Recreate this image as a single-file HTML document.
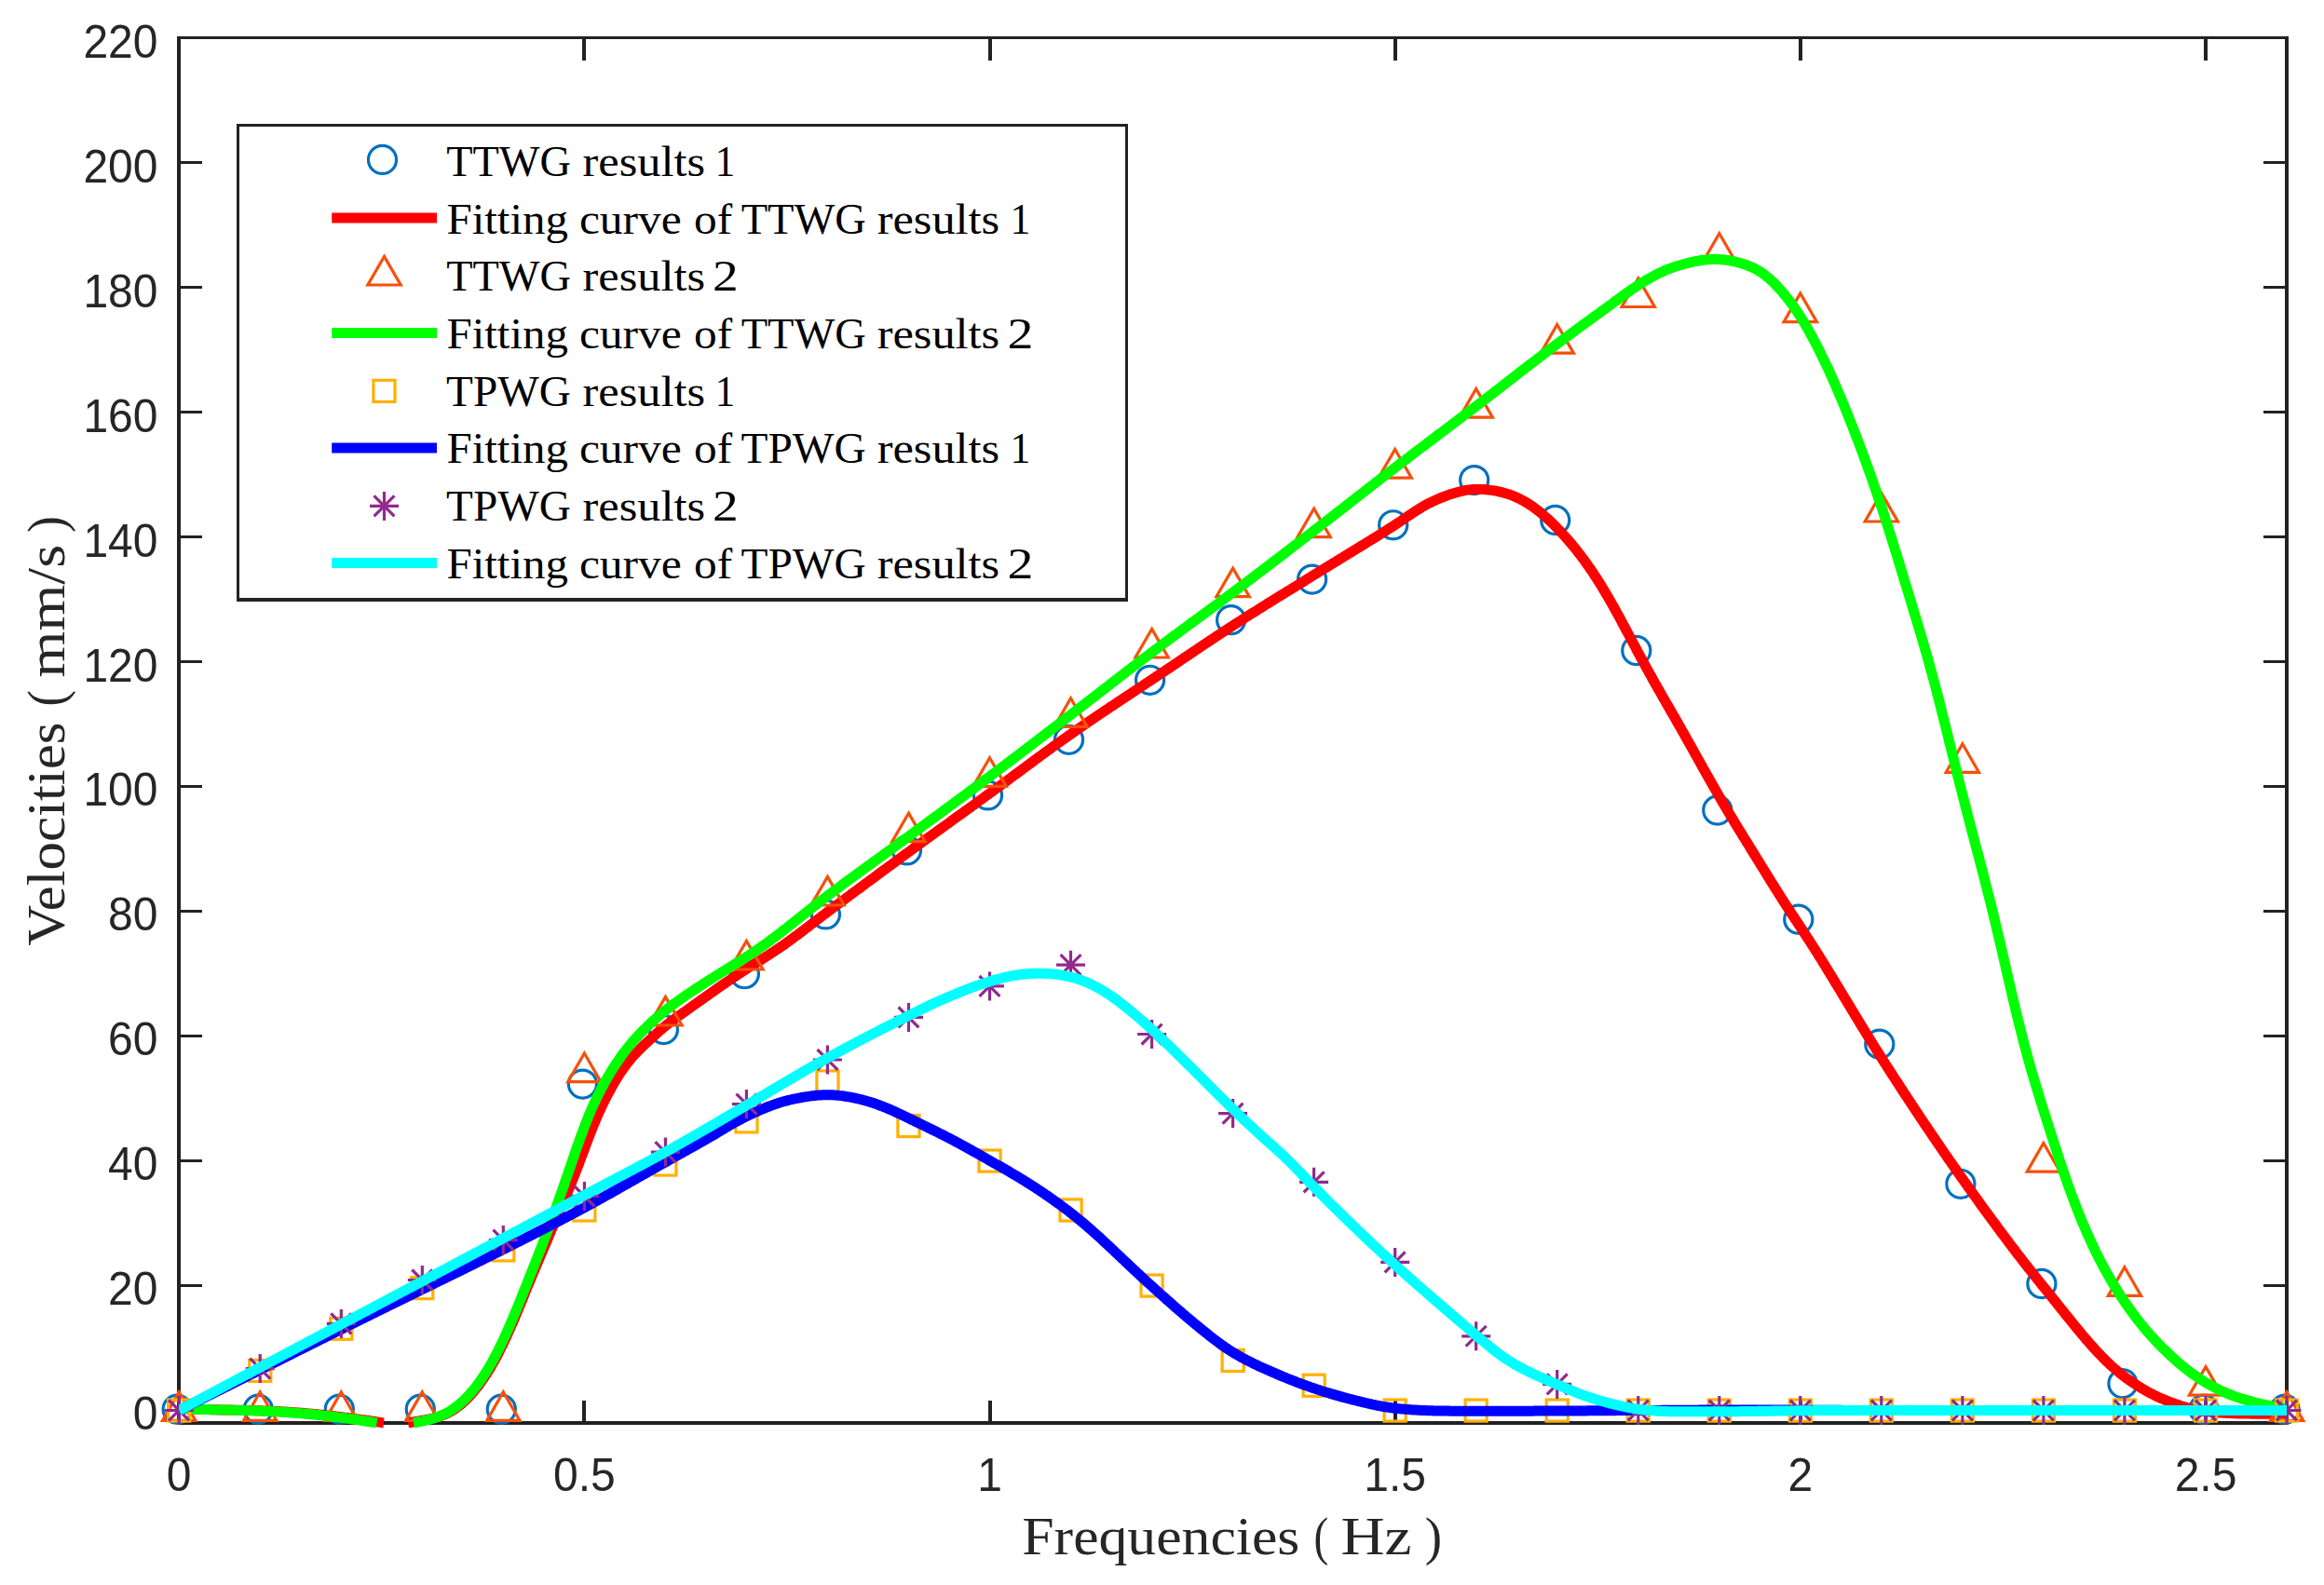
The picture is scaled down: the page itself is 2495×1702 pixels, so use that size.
<!DOCTYPE html>
<html lang="en"><head><meta charset="utf-8"><title>Velocities vs Frequencies</title>
<style>html,body{margin:0;padding:0;background:#fff}svg{display:block}.tk{font-family:"Liberation Sans",Arial,Helvetica,sans-serif;font-size:48px;fill:#262626}.lg{font-family:"Liberation Serif","Times New Roman",serif;font-size:45.5px;fill:#000}.al{font-family:"Liberation Serif","Times New Roman",serif;font-size:57.3px;fill:#262626}</style></head><body>
<svg width="2495" height="1702" viewBox="0 0 2495 1702">
<rect x="0" y="0" width="2495" height="1702" fill="#ffffff"/>
<g fill="#222222" shape-rendering="crispEdges">
<rect x="190" y="39" width="2267" height="3"/>
<rect x="190" y="1526" width="2267" height="4"/>
<rect x="190" y="39" width="4" height="1491"/>
<rect x="2453" y="39" width="4" height="1491"/>
<rect x="625" y="1504" width="4" height="23"/>
<rect x="625" y="41" width="4" height="24"/>
<rect x="1061" y="1504" width="4" height="23"/>
<rect x="1061" y="41" width="4" height="24"/>
<rect x="1496" y="1504" width="4" height="23"/>
<rect x="1496" y="41" width="4" height="24"/>
<rect x="1931" y="1504" width="4" height="23"/>
<rect x="1931" y="41" width="4" height="24"/>
<rect x="2366" y="1504" width="4" height="23"/>
<rect x="2366" y="41" width="4" height="24"/>
<rect x="193" y="1513" width="24" height="3"/>
<rect x="2430" y="1513" width="24" height="3"/>
<rect x="193" y="1379" width="24" height="3"/>
<rect x="2430" y="1379" width="24" height="3"/>
<rect x="193" y="1245" width="24" height="3"/>
<rect x="2430" y="1245" width="24" height="3"/>
<rect x="193" y="1111" width="24" height="3"/>
<rect x="2430" y="1111" width="24" height="3"/>
<rect x="193" y="977" width="24" height="3"/>
<rect x="2430" y="977" width="24" height="3"/>
<rect x="193" y="843" width="24" height="3"/>
<rect x="2430" y="843" width="24" height="3"/>
<rect x="193" y="709" width="24" height="3"/>
<rect x="2430" y="709" width="24" height="3"/>
<rect x="193" y="575" width="24" height="3"/>
<rect x="2430" y="575" width="24" height="3"/>
<rect x="193" y="441" width="24" height="3"/>
<rect x="2430" y="441" width="24" height="3"/>
<rect x="193" y="307" width="24" height="3"/>
<rect x="2430" y="307" width="24" height="3"/>
<rect x="193" y="173" width="24" height="3"/>
<rect x="2430" y="173" width="24" height="3"/>
</g>
<g class="tk" text-anchor="middle">
<text transform="translate(192.2 1601) scale(1 1.04)">0</text>
<text transform="translate(627.4 1601) scale(1 1.04)">0.5</text>
<text transform="translate(1062.5 1601) scale(1 1.04)">1</text>
<text transform="translate(1497.7 1601) scale(1 1.04)">1.5</text>
<text transform="translate(1932.8 1601) scale(1 1.04)">2</text>
<text transform="translate(2368 1601) scale(1 1.04)">2.5</text>
</g>
<g class="tk" text-anchor="end">
<text transform="translate(169.5 1535.4) scale(1 1.04)">0</text>
<text transform="translate(169.5 1401.4) scale(1 1.04)">20</text>
<text transform="translate(169.5 1267.4) scale(1 1.04)">40</text>
<text transform="translate(169.5 1133.4) scale(1 1.04)">60</text>
<text transform="translate(169.5 999.4) scale(1 1.04)">80</text>
<text transform="translate(169.5 865.4) scale(1 1.04)">100</text>
<text transform="translate(169.5 731.5) scale(1 1.04)">120</text>
<text transform="translate(169.5 597.5) scale(1 1.04)">140</text>
<text transform="translate(169.5 463.5) scale(1 1.04)">160</text>
<text transform="translate(169.5 329.5) scale(1 1.04)">180</text>
<text transform="translate(169.5 195.5) scale(1 1.04)">200</text>
<text transform="translate(169.5 61.5) scale(1 1.04)">220</text>
</g>
<text class="al" y="1668.8"><tspan x="1097.3" textLength="298.0" lengthAdjust="spacingAndGlyphs">Frequencies</tspan> <tspan x="1410.6" textLength="15.6" lengthAdjust="spacingAndGlyphs">(</tspan> <tspan x="1439.4" textLength="76.0" lengthAdjust="spacingAndGlyphs">Hz</tspan> <tspan x="1529.8" textLength="18.4" lengthAdjust="spacingAndGlyphs">)</tspan></text>
<g transform="translate(69.2 1015.3) rotate(-90)"><text class="al" y="0"><tspan x="-0.4" textLength="240.2" lengthAdjust="spacingAndGlyphs">Velocities</tspan> <tspan x="256.9" textLength="17.4" lengthAdjust="spacingAndGlyphs">(</tspan> <tspan x="287.9" textLength="142.5" lengthAdjust="spacingAndGlyphs">mm/s</tspan> <tspan x="443.3" textLength="17.8" lengthAdjust="spacingAndGlyphs">)</tspan></text></g>
<defs><clipPath id="ax"><rect x="192.2" y="40.6" width="2262.8" height="1495.3"/></clipPath></defs>
<g fill="none" stroke="#0070C0" stroke-width="3.2" stroke-linejoin="miter" stroke-miterlimit="10">
<circle cx="190.2" cy="1513.2" r="15.05"/>
<circle cx="277.2" cy="1513.2" r="15.05"/>
<circle cx="364.3" cy="1513.2" r="15.05"/>
<circle cx="451.3" cy="1513.2" r="15.05"/>
<circle cx="538.3" cy="1513.2" r="15.05"/>
<circle cx="625.4" cy="1164.1" r="15.05"/>
<circle cx="712.4" cy="1105.5" r="15.05"/>
<circle cx="799.4" cy="1045.7" r="15.05"/>
<circle cx="886.4" cy="981.9" r="15.05"/>
<circle cx="973.5" cy="912.9" r="15.05"/>
<circle cx="1060.5" cy="853.9" r="15.05"/>
<circle cx="1147.5" cy="794.3" r="15.05"/>
<circle cx="1234.6" cy="730.3" r="15.05"/>
<circle cx="1321.6" cy="665.7" r="15.05"/>
<circle cx="1408.6" cy="622.1" r="15.05"/>
<circle cx="1495.7" cy="563.8" r="15.05"/>
<circle cx="1582.7" cy="515.6" r="15.05"/>
<circle cx="1669.7" cy="558.5" r="15.05"/>
<circle cx="1756.8" cy="698.5" r="15.05"/>
<circle cx="1843.8" cy="870" r="15.05"/>
<circle cx="1930.8" cy="987.2" r="15.05"/>
<circle cx="2017.8" cy="1121.2" r="15.05"/>
<circle cx="2104.9" cy="1271.3" r="15.05"/>
<circle cx="2191.9" cy="1378.5" r="15.05"/>
<circle cx="2278.9" cy="1485.7" r="15.05"/>
<circle cx="2366" cy="1513.2" r="15.05"/>
<circle cx="2453" cy="1513.2" r="15.05"/>
</g>
<path clip-path="url(#ax)" d="M192.2 1512.5 L193.9 1512.6 L195.7 1512.6 L197.4 1512.7 L199.2 1512.8 L200.9 1512.8 L202.7 1512.9 L204.4 1513.0 L206.2 1513.0 L207.9 1513.1 L209.6 1513.2 L211.4 1513.2 L213.1 1513.3 L214.9 1513.3 L216.6 1513.4 L218.4 1513.5 L220.1 1513.5 L221.8 1513.6 L223.6 1513.6 L225.3 1513.6 L227.1 1513.7 L228.8 1513.7 L230.6 1513.8 L232.3 1513.8 L234.1 1513.8 L235.8 1513.9 L237.5 1513.9 L239.3 1513.9 L241.0 1514.0 L242.8 1514.0 L244.5 1514.0 L246.3 1514.1 L248.0 1514.1 L249.8 1514.1 L251.5 1514.2 L253.2 1514.2 L255.0 1514.2 L256.7 1514.3 L258.5 1514.3 L260.2 1514.3 L262.0 1514.4 L263.7 1514.4 L265.5 1514.4 L267.2 1514.5 L268.9 1514.5 L270.7 1514.6 L272.4 1514.6 L274.2 1514.7 L275.9 1514.7 L277.7 1514.8 L279.4 1514.8 L281.1 1514.9 L282.9 1514.9 L284.6 1515.0 L286.4 1515.1 L288.1 1515.2 L289.9 1515.2 L291.6 1515.3 L293.4 1515.4 L295.1 1515.5 L296.8 1515.6 L298.6 1515.6 L300.3 1515.7 L302.1 1515.8 L303.8 1515.9 L305.6 1516.0 L307.3 1516.1 L309.1 1516.2 L310.8 1516.4 L312.5 1516.5 L314.3 1516.6 L316.0 1516.7 L317.8 1516.8 L319.5 1516.9 L321.3 1517.1 L323.0 1517.2 L324.7 1517.3 L326.5 1517.5 L328.2 1517.6 L330.0 1517.8 L331.7 1517.9 L333.5 1518.1 L335.2 1518.2 L337.0 1518.4 L338.7 1518.6 L340.4 1518.7 L342.2 1518.9 L343.9 1519.1 L345.7 1519.3 L347.4 1519.5 L349.2 1519.7 L350.9 1519.9 L352.7 1520.0 L354.4 1520.2 L356.1 1520.4 L357.9 1520.6 L359.6 1520.8 L361.4 1521.1 L363.1 1521.3 L364.9 1521.5 L366.6 1521.7 L368.4 1521.9 L370.1 1522.1 L371.8 1522.3 L373.6 1522.5 L375.3 1522.8 L377.1 1523.0 L378.8 1523.2 L380.6 1523.4 L382.3 1523.7 L384.0 1523.9 L385.8 1524.1 L387.5 1524.4 L389.3 1524.6 L391.0 1524.8 L392.8 1525.1 L394.5 1525.3 L396.3 1525.6 L398.0 1525.8 L399.7 1526.1 L401.5 1526.3 L403.2 1526.6 L405.0 1526.9 L406.7 1527.1 L408.5 1527.4 L410.2 1527.7 L412.0 1527.9 M438.1 1527.9 L439.9 1527.6 L441.6 1527.3 L443.4 1527.0 L445.1 1526.7 L446.8 1526.4 L448.6 1526.1 L450.3 1525.8 L452.1 1525.5 L453.8 1525.2 L455.6 1524.9 L457.3 1524.6 L459.0 1524.2 L460.8 1523.9 L462.5 1523.5 L464.3 1523.1 L466.0 1522.7 L467.7 1522.3 L469.5 1521.8 L471.2 1521.2 L473.0 1520.6 L474.7 1520.0 L476.4 1519.3 L478.2 1518.6 L479.9 1517.8 L481.7 1516.9 L483.4 1516.0 L485.1 1515.0 L486.9 1513.9 L488.6 1512.7 L490.4 1511.5 L492.1 1510.2 L493.8 1508.8 L495.6 1507.4 L497.3 1505.8 L499.1 1504.2 L500.8 1502.5 L502.5 1500.8 L504.3 1499.0 L506.0 1497.1 L507.8 1495.1 L509.5 1493.0 L511.2 1490.9 L513.0 1488.7 L514.7 1486.4 L516.5 1484.0 L518.2 1481.5 L519.9 1479.0 L521.7 1476.4 L523.4 1473.6 L525.2 1470.8 L526.9 1467.9 L528.6 1464.9 L530.4 1461.8 L532.1 1458.7 L533.9 1455.4 L535.6 1452.1 L537.3 1448.6 L539.1 1445.1 L540.8 1441.5 L542.6 1437.8 L544.3 1434.0 L546.0 1430.1 L547.8 1426.2 L549.5 1422.2 L551.3 1418.2 L553.0 1414.1 L554.7 1410.0 L556.5 1405.8 L558.2 1401.5 L560.0 1397.3 L561.7 1393.1 L563.4 1388.8 L565.2 1384.5 L566.9 1380.3 L568.7 1376.1 L570.4 1371.8 L572.1 1367.7 L573.9 1363.5 L575.6 1359.4 L577.4 1355.3 L579.1 1351.2 L580.8 1347.1 L582.6 1343.0 L584.3 1338.9 L586.1 1334.9 L587.8 1330.8 L589.5 1326.7 L591.3 1322.6 L593.0 1318.5 L594.8 1314.5 L596.5 1310.4 L598.2 1306.3 L600.0 1302.2 L601.7 1298.1 L603.5 1294.1 L605.2 1290.0 L606.9 1285.9 L608.7 1281.8 L610.4 1277.6 L612.2 1273.4 L613.9 1269.1 L615.6 1264.7 L617.4 1260.3 L619.1 1255.8 L620.9 1251.2 L622.6 1246.6 L624.3 1241.9 L626.1 1237.3 L627.8 1232.6 L629.6 1227.9 L631.3 1223.3 L633.0 1218.8 L634.8 1214.3 L636.5 1209.9 L638.3 1205.7 L640.0 1201.5 L641.7 1197.5 L643.5 1193.6 L645.2 1189.9 L647.0 1186.2 L648.7 1182.6 L650.4 1179.2 L652.2 1175.8 L653.9 1172.5 L655.7 1169.3 L657.4 1166.2 L659.1 1163.2 L660.9 1160.2 L662.6 1157.4 L664.4 1154.6 L666.1 1151.9 L667.9 1149.4 L669.6 1146.9 L671.3 1144.5 L673.1 1142.2 L674.8 1140.0 L676.6 1137.8 L678.3 1135.8 L680.0 1133.8 L681.8 1131.9 L683.5 1130.1 L685.3 1128.3 L687.0 1126.5 L688.7 1124.8 L690.5 1123.2 L692.2 1121.5 L694.0 1119.9 L695.7 1118.3 L697.4 1116.7 L699.2 1115.1 L700.9 1113.5 L702.7 1111.9 L704.4 1110.3 L706.1 1108.7 L707.9 1107.2 L709.6 1105.7 L711.4 1104.2 L713.1 1102.7 L714.8 1101.3 L716.6 1099.9 L718.3 1098.6 L720.1 1097.2 L721.8 1095.9 L723.5 1094.6 L725.3 1093.3 L727.0 1092.1 L728.8 1090.8 L730.5 1089.6 L732.2 1088.3 L734.0 1087.1 L735.7 1085.9 L737.5 1084.6 L739.2 1083.4 L740.9 1082.2 L742.7 1080.9 L744.4 1079.7 L746.2 1078.4 L747.9 1077.2 L749.6 1076.0 L751.4 1074.7 L753.1 1073.5 L754.9 1072.3 L756.6 1071.0 L758.3 1069.8 L760.1 1068.6 L761.8 1067.3 L763.6 1066.1 L765.3 1064.9 L767.0 1063.7 L768.8 1062.5 L770.5 1061.2 L772.3 1060.0 L774.0 1058.8 L775.7 1057.6 L777.5 1056.4 L779.2 1055.2 L781.0 1054.0 L782.7 1052.9 L784.4 1051.7 L786.2 1050.5 L787.9 1049.3 L789.7 1048.2 L791.4 1047.0 L793.1 1045.8 L794.9 1044.7 L796.6 1043.5 L798.4 1042.4 L800.1 1041.3 L801.8 1040.2 L803.6 1039.0 L805.3 1037.9 L807.1 1036.8 L808.8 1035.7 L810.5 1034.6 L812.3 1033.6 L814.0 1032.5 L815.8 1031.4 L817.5 1030.3 L819.2 1029.2 L821.0 1028.1 L822.7 1027.0 L824.5 1025.9 L826.2 1024.8 L827.9 1023.7 L829.7 1022.5 L831.4 1021.4 L833.2 1020.2 L834.9 1019.1 L836.6 1017.9 L838.4 1016.7 L840.1 1015.5 L841.9 1014.3 L843.6 1013.0 L845.3 1011.8 L847.1 1010.5 L848.8 1009.3 L850.6 1008.0 L852.3 1006.7 L854.0 1005.4 L855.8 1004.1 L857.5 1002.8 L859.3 1001.5 L861.0 1000.2 L862.7 998.9 L864.5 997.5 L866.2 996.2 L868.0 994.9 L869.7 993.5 L871.4 992.2 L873.2 990.9 L874.9 989.5 L876.7 988.2 L878.4 986.9 L880.2 985.6 L881.9 984.2 L883.6 982.9 L885.4 981.6 L887.1 980.3 L888.9 979.0 L890.6 977.7 L892.3 976.3 L894.1 975.0 L895.8 973.7 L897.6 972.4 L899.3 971.1 L901.0 969.8 L902.8 968.6 L904.5 967.3 L906.3 966.0 L908.0 964.7 L909.7 963.4 L911.5 962.1 L913.2 960.8 L915.0 959.5 L916.7 958.2 L918.4 956.9 L920.2 955.6 L921.9 954.3 L923.7 953.1 L925.4 951.8 L927.1 950.5 L928.9 949.2 L930.6 947.9 L932.4 946.6 L934.1 945.3 L935.8 944.0 L937.6 942.8 L939.3 941.5 L941.1 940.2 L942.8 938.9 L944.5 937.6 L946.3 936.3 L948.0 935.1 L949.8 933.8 L951.5 932.5 L953.2 931.2 L955.0 929.9 L956.7 928.7 L958.5 927.4 L960.2 926.1 L961.9 924.8 L963.7 923.5 L965.4 922.3 L967.2 921.0 L968.9 919.7 L970.6 918.4 L972.4 917.2 L974.1 915.9 L975.9 914.6 L977.6 913.4 L979.3 912.1 L981.1 910.8 L982.8 909.6 L984.6 908.3 L986.3 907.0 L988.0 905.8 L989.8 904.5 L991.5 903.2 L993.3 902.0 L995.0 900.7 L996.7 899.4 L998.5 898.2 L1000.2 896.9 L1002.0 895.7 L1003.7 894.4 L1005.4 893.1 L1007.2 891.9 L1008.9 890.6 L1010.7 889.4 L1012.4 888.1 L1014.1 886.9 L1015.9 885.6 L1017.6 884.4 L1019.4 883.1 L1021.1 881.8 L1022.8 880.6 L1024.6 879.3 L1026.3 878.1 L1028.1 876.8 L1029.8 875.6 L1031.5 874.3 L1033.3 873.1 L1035.0 871.8 L1036.8 870.5 L1038.5 869.3 L1040.2 868.0 L1042.0 866.8 L1043.7 865.5 L1045.5 864.3 L1047.2 863.0 L1048.9 861.7 L1050.7 860.5 L1052.4 859.2 L1054.2 858.0 L1055.9 856.7 L1057.6 855.4 L1059.4 854.2 L1061.1 852.9 L1062.9 851.6 L1064.6 850.4 L1066.3 849.1 L1068.1 847.8 L1069.8 846.5 L1071.6 845.3 L1073.3 844.0 L1075.0 842.7 L1076.8 841.4 L1078.5 840.1 L1080.3 838.9 L1082.0 837.6 L1083.8 836.3 L1085.5 835.0 L1087.2 833.7 L1089.0 832.4 L1090.7 831.1 L1092.5 829.9 L1094.2 828.6 L1095.9 827.3 L1097.7 826.0 L1099.4 824.7 L1101.2 823.4 L1102.9 822.1 L1104.6 820.8 L1106.4 819.6 L1108.1 818.3 L1109.9 817.0 L1111.6 815.7 L1113.3 814.4 L1115.1 813.2 L1116.8 811.9 L1118.6 810.6 L1120.3 809.3 L1122.0 808.1 L1123.8 806.8 L1125.5 805.5 L1127.3 804.3 L1129.0 803.0 L1130.7 801.7 L1132.5 800.5 L1134.2 799.2 L1136.0 798.0 L1137.7 796.7 L1139.4 795.5 L1141.2 794.2 L1142.9 793.0 L1144.7 791.8 L1146.4 790.5 L1148.1 789.3 L1149.9 788.1 L1151.6 786.9 L1153.4 785.7 L1155.1 784.5 L1156.8 783.2 L1158.6 782.0 L1160.3 780.8 L1162.1 779.6 L1163.8 778.4 L1165.5 777.2 L1167.3 776.0 L1169.0 774.9 L1170.8 773.7 L1172.5 772.5 L1174.2 771.3 L1176.0 770.1 L1177.7 768.9 L1179.5 767.8 L1181.2 766.6 L1182.9 765.4 L1184.7 764.3 L1186.4 763.1 L1188.2 761.9 L1189.9 760.8 L1191.6 759.6 L1193.4 758.4 L1195.1 757.3 L1196.9 756.1 L1198.6 755.0 L1200.3 753.8 L1202.1 752.6 L1203.8 751.5 L1205.6 750.3 L1207.3 749.2 L1209.0 748.0 L1210.8 746.9 L1212.5 745.7 L1214.3 744.6 L1216.0 743.4 L1217.7 742.3 L1219.5 741.1 L1221.2 739.9 L1223.0 738.8 L1224.7 737.6 L1226.4 736.5 L1228.2 735.3 L1229.9 734.2 L1231.7 733.0 L1233.4 731.9 L1235.1 730.7 L1236.9 729.6 L1238.6 728.4 L1240.4 727.3 L1242.1 726.1 L1243.8 724.9 L1245.6 723.8 L1247.3 722.6 L1249.1 721.4 L1250.8 720.3 L1252.5 719.1 L1254.3 718.0 L1256.0 716.8 L1257.8 715.6 L1259.5 714.5 L1261.2 713.3 L1263.0 712.1 L1264.7 710.9 L1266.5 709.8 L1268.2 708.6 L1269.9 707.4 L1271.7 706.3 L1273.4 705.1 L1275.2 703.9 L1276.9 702.7 L1278.6 701.6 L1280.4 700.4 L1282.1 699.2 L1283.9 698.0 L1285.6 696.9 L1287.3 695.7 L1289.1 694.5 L1290.8 693.4 L1292.6 692.2 L1294.3 691.0 L1296.1 689.9 L1297.8 688.7 L1299.5 687.6 L1301.3 686.4 L1303.0 685.2 L1304.8 684.1 L1306.5 682.9 L1308.2 681.8 L1310.0 680.6 L1311.7 679.5 L1313.5 678.4 L1315.2 677.2 L1316.9 676.1 L1318.7 674.9 L1320.4 673.8 L1322.2 672.7 L1323.9 671.6 L1325.6 670.4 L1327.4 669.3 L1329.1 668.2 L1330.9 667.1 L1332.6 666.0 L1334.3 664.9 L1336.1 663.8 L1337.8 662.6 L1339.6 661.5 L1341.3 660.4 L1343.0 659.3 L1344.8 658.2 L1346.5 657.2 L1348.3 656.1 L1350.0 655.0 L1351.7 653.9 L1353.5 652.8 L1355.2 651.7 L1357.0 650.6 L1358.7 649.5 L1360.4 648.4 L1362.2 647.4 L1363.9 646.3 L1365.7 645.2 L1367.4 644.1 L1369.1 643.0 L1370.9 642.0 L1372.6 640.9 L1374.4 639.8 L1376.1 638.7 L1377.8 637.7 L1379.6 636.6 L1381.3 635.5 L1383.1 634.4 L1384.8 633.4 L1386.5 632.3 L1388.3 631.2 L1390.0 630.2 L1391.8 629.1 L1393.5 628.0 L1395.2 626.9 L1397.0 625.9 L1398.7 624.8 L1400.5 623.7 L1402.2 622.6 L1403.9 621.6 L1405.7 620.5 L1407.4 619.4 L1409.2 618.3 L1410.9 617.3 L1412.6 616.2 L1414.4 615.1 L1416.1 614.0 L1417.9 613.0 L1419.6 611.9 L1421.3 610.8 L1423.1 609.8 L1424.8 608.7 L1426.6 607.6 L1428.3 606.6 L1430.0 605.5 L1431.8 604.4 L1433.5 603.4 L1435.3 602.3 L1437.0 601.2 L1438.7 600.2 L1440.5 599.1 L1442.2 598.0 L1444.0 597.0 L1445.7 595.9 L1447.4 594.8 L1449.2 593.8 L1450.9 592.7 L1452.7 591.6 L1454.4 590.6 L1456.1 589.5 L1457.9 588.4 L1459.6 587.4 L1461.4 586.3 L1463.1 585.2 L1464.8 584.2 L1466.6 583.1 L1468.3 582.0 L1470.1 581.0 L1471.8 579.9 L1473.5 578.8 L1475.3 577.7 L1477.0 576.7 L1478.8 575.6 L1480.5 574.5 L1482.2 573.4 L1484.0 572.3 L1485.7 571.2 L1487.5 570.1 L1489.2 569.0 L1490.9 567.9 L1492.7 566.8 L1494.4 565.7 L1496.2 564.6 L1497.9 563.4 L1499.6 562.3 L1501.4 561.1 L1503.1 560.0 L1504.9 558.8 L1506.6 557.6 L1508.4 556.5 L1510.1 555.3 L1511.8 554.1 L1513.6 552.9 L1515.3 551.7 L1517.1 550.6 L1518.8 549.4 L1520.5 548.3 L1522.3 547.2 L1524.0 546.1 L1525.8 545.1 L1527.5 544.0 L1529.2 543.0 L1531.0 542.1 L1532.7 541.1 L1534.5 540.2 L1536.2 539.4 L1537.9 538.5 L1539.7 537.7 L1541.4 536.9 L1543.2 536.2 L1544.9 535.4 L1546.6 534.7 L1548.4 534.0 L1550.1 533.3 L1551.9 532.7 L1553.6 532.0 L1555.3 531.4 L1557.1 530.8 L1558.8 530.2 L1560.6 529.7 L1562.3 529.2 L1564.0 528.7 L1565.8 528.2 L1567.5 527.8 L1569.3 527.3 L1571.0 527.0 L1572.7 526.6 L1574.5 526.3 L1576.2 526.1 L1578.0 525.9 L1579.7 525.7 L1581.4 525.5 L1583.2 525.4 L1584.9 525.4 L1586.7 525.4 L1588.4 525.4 L1590.1 525.4 L1591.9 525.5 L1593.6 525.6 L1595.4 525.8 L1597.1 525.9 L1598.8 526.1 L1600.6 526.4 L1602.3 526.6 L1604.1 526.9 L1605.8 527.2 L1607.5 527.5 L1609.3 527.9 L1611.0 528.3 L1612.8 528.7 L1614.5 529.2 L1616.2 529.7 L1618.0 530.2 L1619.7 530.7 L1621.5 531.3 L1623.2 532.0 L1624.9 532.7 L1626.7 533.4 L1628.4 534.2 L1630.2 535.0 L1631.9 535.9 L1633.6 536.8 L1635.4 537.7 L1637.1 538.7 L1638.9 539.8 L1640.6 540.8 L1642.3 542.0 L1644.1 543.1 L1645.8 544.3 L1647.6 545.6 L1649.3 546.9 L1651.0 548.2 L1652.8 549.6 L1654.5 551.0 L1656.3 552.5 L1658.0 554.0 L1659.7 555.5 L1661.5 557.1 L1663.2 558.7 L1665.0 560.3 L1666.7 562.0 L1668.4 563.7 L1670.2 565.5 L1671.9 567.3 L1673.7 569.1 L1675.4 570.9 L1677.1 572.8 L1678.9 574.7 L1680.6 576.6 L1682.4 578.6 L1684.1 580.6 L1685.8 582.6 L1687.6 584.7 L1689.3 586.8 L1691.1 589.0 L1692.8 591.2 L1694.5 593.4 L1696.3 595.6 L1698.0 597.9 L1699.8 600.3 L1701.5 602.6 L1703.2 605.1 L1705.0 607.5 L1706.7 610.0 L1708.5 612.5 L1710.2 615.1 L1711.9 617.8 L1713.7 620.4 L1715.4 623.2 L1717.2 625.9 L1718.9 628.7 L1720.7 631.6 L1722.4 634.5 L1724.1 637.4 L1725.9 640.3 L1727.6 643.3 L1729.4 646.4 L1731.1 649.4 L1732.8 652.5 L1734.6 655.7 L1736.3 658.8 L1738.1 662.0 L1739.8 665.2 L1741.5 668.5 L1743.3 671.7 L1745.0 675.0 L1746.8 678.3 L1748.5 681.5 L1750.2 684.8 L1752.0 688.1 L1753.7 691.4 L1755.5 694.6 L1757.2 697.9 L1758.9 701.2 L1760.7 704.4 L1762.4 707.6 L1764.2 710.8 L1765.9 714.0 L1767.6 717.2 L1769.4 720.4 L1771.1 723.5 L1772.9 726.6 L1774.6 729.8 L1776.3 732.9 L1778.1 736.0 L1779.8 739.0 L1781.6 742.1 L1783.3 745.2 L1785.0 748.2 L1786.8 751.3 L1788.5 754.3 L1790.3 757.3 L1792.0 760.3 L1793.7 763.4 L1795.5 766.4 L1797.2 769.4 L1799.0 772.4 L1800.7 775.5 L1802.4 778.5 L1804.2 781.6 L1805.9 784.6 L1807.7 787.7 L1809.4 790.8 L1811.1 793.9 L1812.9 797.0 L1814.6 800.1 L1816.4 803.2 L1818.1 806.3 L1819.8 809.4 L1821.6 812.6 L1823.3 815.7 L1825.1 818.8 L1826.8 821.9 L1828.5 825.0 L1830.3 828.1 L1832.0 831.2 L1833.8 834.3 L1835.5 837.4 L1837.2 840.4 L1839.0 843.5 L1840.7 846.5 L1842.5 849.6 L1844.2 852.6 L1845.9 855.6 L1847.7 858.6 L1849.4 861.6 L1851.2 864.5 L1852.9 867.5 L1854.6 870.4 L1856.4 873.3 L1858.1 876.2 L1859.9 879.1 L1861.6 882.0 L1863.3 884.9 L1865.1 887.7 L1866.8 890.6 L1868.6 893.4 L1870.3 896.2 L1872.0 899.1 L1873.8 901.9 L1875.5 904.7 L1877.3 907.5 L1879.0 910.3 L1880.7 913.1 L1882.5 916.0 L1884.2 918.8 L1886.0 921.6 L1887.7 924.4 L1889.4 927.2 L1891.2 930.1 L1892.9 932.9 L1894.7 935.7 L1896.4 938.5 L1898.1 941.3 L1899.9 944.1 L1901.6 947.0 L1903.4 949.8 L1905.1 952.5 L1906.8 955.3 L1908.6 958.1 L1910.3 960.8 L1912.1 963.6 L1913.8 966.3 L1915.5 969.0 L1917.3 971.7 L1919.0 974.4 L1920.8 977.1 L1922.5 979.7 L1924.2 982.4 L1926.0 985.0 L1927.7 987.7 L1929.5 990.3 L1931.2 993.0 L1933.0 995.6 L1934.7 998.3 L1936.4 1000.9 L1938.2 1003.6 L1939.9 1006.2 L1941.7 1008.9 L1943.4 1011.6 L1945.1 1014.3 L1946.9 1017.1 L1948.6 1019.8 L1950.4 1022.6 L1952.1 1025.3 L1953.8 1028.1 L1955.6 1030.9 L1957.3 1033.7 L1959.1 1036.5 L1960.8 1039.3 L1962.5 1042.2 L1964.3 1045.0 L1966.0 1047.9 L1967.8 1050.7 L1969.5 1053.6 L1971.2 1056.5 L1973.0 1059.3 L1974.7 1062.2 L1976.5 1065.1 L1978.2 1068.0 L1979.9 1070.9 L1981.7 1073.7 L1983.4 1076.6 L1985.2 1079.5 L1986.9 1082.4 L1988.6 1085.3 L1990.4 1088.1 L1992.1 1091.0 L1993.9 1093.9 L1995.6 1096.8 L1997.3 1099.6 L1999.1 1102.5 L2000.8 1105.3 L2002.6 1108.1 L2004.3 1111.0 L2006.0 1113.8 L2007.8 1116.6 L2009.5 1119.4 L2011.3 1122.2 L2013.0 1125.0 L2014.7 1127.7 L2016.5 1130.5 L2018.2 1133.2 L2020.0 1136.0 L2021.7 1138.7 L2023.4 1141.5 L2025.2 1144.2 L2026.9 1146.9 L2028.7 1149.6 L2030.4 1152.3 L2032.1 1155.0 L2033.9 1157.7 L2035.6 1160.4 L2037.4 1163.0 L2039.1 1165.7 L2040.8 1168.4 L2042.6 1171.1 L2044.3 1173.7 L2046.1 1176.4 L2047.8 1179.0 L2049.5 1181.7 L2051.3 1184.3 L2053.0 1186.9 L2054.8 1189.6 L2056.5 1192.2 L2058.2 1194.8 L2060.0 1197.5 L2061.7 1200.1 L2063.5 1202.7 L2065.2 1205.3 L2066.9 1207.9 L2068.7 1210.5 L2070.4 1213.0 L2072.2 1215.6 L2073.9 1218.2 L2075.6 1220.8 L2077.4 1223.3 L2079.1 1225.9 L2080.9 1228.4 L2082.6 1231.0 L2084.3 1233.5 L2086.1 1236.1 L2087.8 1238.6 L2089.6 1241.1 L2091.3 1243.6 L2093.0 1246.1 L2094.8 1248.6 L2096.5 1251.1 L2098.3 1253.6 L2100.0 1256.1 L2101.7 1258.6 L2103.5 1261.1 L2105.2 1263.5 L2107.0 1266.0 L2108.7 1268.4 L2110.4 1270.9 L2112.2 1273.3 L2113.9 1275.8 L2115.7 1278.2 L2117.4 1280.7 L2119.1 1283.1 L2120.9 1285.5 L2122.6 1287.9 L2124.4 1290.3 L2126.1 1292.8 L2127.8 1295.2 L2129.6 1297.6 L2131.3 1300.0 L2133.1 1302.4 L2134.8 1304.7 L2136.5 1307.1 L2138.3 1309.5 L2140.0 1311.9 L2141.8 1314.2 L2143.5 1316.6 L2145.3 1319.0 L2147.0 1321.3 L2148.7 1323.7 L2150.5 1326.0 L2152.2 1328.3 L2154.0 1330.6 L2155.7 1333.0 L2157.4 1335.3 L2159.2 1337.6 L2160.9 1339.9 L2162.7 1342.1 L2164.4 1344.4 L2166.1 1346.7 L2167.9 1348.9 L2169.6 1351.2 L2171.4 1353.4 L2173.1 1355.7 L2174.8 1357.9 L2176.6 1360.1 L2178.3 1362.3 L2180.1 1364.5 L2181.8 1366.7 L2183.5 1368.9 L2185.3 1371.1 L2187.0 1373.3 L2188.8 1375.4 L2190.5 1377.6 L2192.2 1379.8 L2194.0 1381.9 L2195.7 1384.1 L2197.5 1386.3 L2199.2 1388.4 L2200.9 1390.6 L2202.7 1392.7 L2204.4 1394.9 L2206.2 1397.1 L2207.9 1399.2 L2209.6 1401.4 L2211.4 1403.6 L2213.1 1405.8 L2214.9 1407.9 L2216.6 1410.1 L2218.3 1412.3 L2220.1 1414.4 L2221.8 1416.6 L2223.6 1418.8 L2225.3 1420.9 L2227.0 1423.0 L2228.8 1425.2 L2230.5 1427.3 L2232.3 1429.4 L2234.0 1431.5 L2235.7 1433.6 L2237.5 1435.6 L2239.2 1437.7 L2241.0 1439.7 L2242.7 1441.7 L2244.4 1443.7 L2246.2 1445.6 L2247.9 1447.6 L2249.7 1449.5 L2251.4 1451.4 L2253.1 1453.2 L2254.9 1455.0 L2256.6 1456.8 L2258.4 1458.6 L2260.1 1460.3 L2261.8 1462.1 L2263.6 1463.7 L2265.3 1465.4 L2267.1 1467.0 L2268.8 1468.5 L2270.5 1470.0 L2272.3 1471.5 L2274.0 1473.0 L2275.8 1474.4 L2277.5 1475.8 L2279.2 1477.1 L2281.0 1478.5 L2282.7 1479.8 L2284.5 1481.0 L2286.2 1482.2 L2287.9 1483.5 L2289.7 1484.6 L2291.4 1485.8 L2293.2 1486.9 L2294.9 1488.0 L2296.6 1489.1 L2298.4 1490.2 L2300.1 1491.2 L2301.9 1492.2 L2303.6 1493.2 L2305.3 1494.2 L2307.1 1495.2 L2308.8 1496.1 L2310.6 1497.0 L2312.3 1497.9 L2314.0 1498.8 L2315.8 1499.6 L2317.5 1500.4 L2319.3 1501.2 L2321.0 1502.0 L2322.7 1502.7 L2324.5 1503.4 L2326.2 1504.1 L2328.0 1504.8 L2329.7 1505.5 L2331.4 1506.1 L2333.2 1506.8 L2334.9 1507.4 L2336.7 1508.0 L2338.4 1508.6 L2340.1 1509.1 L2341.9 1509.7 L2343.6 1510.2 L2345.4 1510.7 L2347.1 1511.2 L2348.8 1511.7 L2350.6 1512.2 L2352.3 1512.6 L2354.1 1513.0 L2355.8 1513.4 L2357.6 1513.8 L2359.3 1514.1 L2361.0 1514.4 L2362.8 1514.7 L2364.5 1515.0 L2366.3 1515.3 L2368.0 1515.5 L2369.7 1515.7 L2371.5 1515.9 L2373.2 1516.1 L2375.0 1516.3 L2376.7 1516.5 L2378.4 1516.6 L2380.2 1516.7 L2381.9 1516.9 L2383.7 1517.0 L2385.4 1517.1 L2387.1 1517.2 L2388.9 1517.3 L2390.6 1517.4 L2392.4 1517.5 L2394.1 1517.6 L2395.8 1517.7 L2397.6 1517.8 L2399.3 1517.8 L2401.1 1517.9 L2402.8 1517.9 L2404.5 1518.0 L2406.3 1518.0 L2408.0 1518.1 L2409.8 1518.1 L2411.5 1518.1 L2413.2 1518.1 L2415.0 1518.1 L2416.7 1518.2 L2418.5 1518.2 L2420.2 1518.2 L2421.9 1518.2 L2423.7 1518.2 L2425.4 1518.2 L2427.2 1518.2 L2428.9 1518.2 L2430.6 1518.2 L2432.4 1518.2 L2434.1 1518.2 L2435.9 1518.2 L2437.6 1518.2 L2439.3 1518.2 L2441.1 1518.2 L2442.8 1518.2 L2444.6 1518.2 L2446.3 1518.2 L2448.0 1518.2 L2449.8 1518.2 L2451.5 1518.2 L2453.3 1518.2 L2455.0 1518.2" fill="none" stroke="#FF0000" stroke-width="11" stroke-linejoin="round" stroke-linecap="butt"/>
<g fill="none" stroke="#F6500B" stroke-width="3.2" stroke-linejoin="miter" stroke-miterlimit="10">
<path d="M192.2 1494.8 L209.9 1525.4 L174.5 1525.4 Z"/>
<path d="M279.2 1494.8 L296.9 1525.4 L261.6 1525.4 Z"/>
<path d="M366.3 1494.8 L383.9 1525.4 L348.6 1525.4 Z"/>
<path d="M453.3 1494.8 L471 1525.4 L435.6 1525.4 Z"/>
<path d="M540.3 1494.8 L558 1525.4 L522.7 1525.4 Z"/>
<path d="M627.4 1131 L645 1161.6 L609.7 1161.6 Z"/>
<path d="M714.4 1070.4 L732.1 1101 L696.7 1101 Z"/>
<path d="M801.4 1010.4 L819.1 1041 L783.7 1041 Z"/>
<path d="M888.4 941.4 L906.1 972 L870.8 972 Z"/>
<path d="M975.5 873.1 L993.1 903.7 L957.8 903.7 Z"/>
<path d="M1062.5 813.8 L1080.2 844.4 L1044.8 844.4 Z"/>
<path d="M1149.5 749.8 L1167.2 780.4 L1131.9 780.4 Z"/>
<path d="M1236.6 675.4 L1254.2 706 L1218.9 706 Z"/>
<path d="M1323.6 610.1 L1341.3 640.7 L1305.9 640.7 Z"/>
<path d="M1410.6 546.1 L1428.3 576.7 L1393 576.7 Z"/>
<path d="M1497.7 482.5 L1515.3 513.1 L1480 513.1 Z"/>
<path d="M1584.7 417.5 L1602.4 448.1 L1567 448.1 Z"/>
<path d="M1671.7 348.5 L1689.4 379.1 L1654.1 379.1 Z"/>
<path d="M1758.8 298.9 L1776.4 329.5 L1741.1 329.5 Z"/>
<path d="M1845.8 250.7 L1863.5 281.3 L1828.1 281.3 Z"/>
<path d="M1932.8 315 L1950.5 345.6 L1915.1 345.6 Z"/>
<path d="M2019.8 529.4 L2037.5 560 L2002.2 560 Z"/>
<path d="M2106.9 798.7 L2124.5 829.3 L2089.2 829.3 Z"/>
<path d="M2193.9 1227.5 L2211.6 1258.1 L2176.2 1258.1 Z"/>
<path d="M2280.9 1360.8 L2298.6 1391.4 L2263.3 1391.4 Z"/>
<path d="M2368 1467.6 L2385.6 1498.2 L2350.3 1498.2 Z"/>
<path d="M2455 1494.8 L2472.7 1525.4 L2437.3 1525.4 Z"/>
</g>
<path clip-path="url(#ax)" d="M192.2 1512.5 L193.9 1512.6 L195.7 1512.6 L197.4 1512.7 L199.2 1512.8 L200.9 1512.8 L202.6 1512.9 L204.4 1513.0 L206.1 1513.0 L207.9 1513.1 L209.6 1513.2 L211.4 1513.2 L213.1 1513.3 L214.8 1513.3 L216.6 1513.4 L218.3 1513.5 L220.1 1513.5 L221.8 1513.6 L223.5 1513.6 L225.3 1513.7 L227.0 1513.7 L228.8 1513.8 L230.5 1513.8 L232.3 1513.9 L234.0 1513.9 L235.7 1513.9 L237.5 1514.0 L239.2 1514.0 L241.0 1514.1 L242.7 1514.1 L244.4 1514.1 L246.2 1514.2 L247.9 1514.2 L249.7 1514.3 L251.4 1514.3 L253.1 1514.3 L254.9 1514.4 L256.6 1514.4 L258.4 1514.5 L260.1 1514.5 L261.9 1514.5 L263.6 1514.6 L265.3 1514.6 L267.1 1514.7 L268.8 1514.7 L270.6 1514.8 L272.3 1514.8 L274.0 1514.9 L275.8 1515.0 L277.5 1515.0 L279.3 1515.1 L281.0 1515.2 L282.7 1515.2 L284.5 1515.3 L286.2 1515.4 L288.0 1515.5 L289.7 1515.6 L291.5 1515.6 L293.2 1515.7 L294.9 1515.8 L296.7 1515.9 L298.4 1516.0 L300.2 1516.1 L301.9 1516.2 L303.6 1516.3 L305.4 1516.5 L307.1 1516.6 L308.9 1516.7 L310.6 1516.8 L312.4 1516.9 L314.1 1517.0 L315.8 1517.2 L317.6 1517.3 L319.3 1517.4 L321.1 1517.6 L322.8 1517.7 L324.5 1517.9 L326.3 1518.0 L328.0 1518.2 L329.8 1518.3 L331.5 1518.5 L333.2 1518.6 L335.0 1518.8 L336.7 1519.0 L338.5 1519.1 L340.2 1519.3 L342.0 1519.5 L343.7 1519.7 L345.4 1519.9 L347.2 1520.1 L348.9 1520.3 L350.7 1520.4 L352.4 1520.6 L354.1 1520.8 L355.9 1521.1 L357.6 1521.3 L359.4 1521.5 L361.1 1521.7 L362.9 1521.9 L364.6 1522.1 L366.3 1522.3 L368.1 1522.6 L369.8 1522.8 L371.6 1523.0 L373.3 1523.2 L375.0 1523.5 L376.8 1523.7 L378.5 1524.0 L380.3 1524.2 L382.0 1524.4 L383.7 1524.7 L385.5 1524.9 L387.2 1525.2 L389.0 1525.5 L390.7 1525.7 L392.5 1526.0 L394.2 1526.3 L395.9 1526.5 L397.7 1526.8 L399.4 1527.1 L401.2 1527.4 L402.9 1527.6 L404.6 1527.9 M444.0 1527.8 L445.7 1527.5 L447.5 1527.2 L449.2 1526.8 L450.9 1526.5 L452.7 1526.2 L454.4 1525.8 L456.2 1525.4 L457.9 1525.0 L459.7 1524.6 L461.4 1524.2 L463.1 1523.7 L464.9 1523.2 L466.6 1522.7 L468.4 1522.1 L470.1 1521.5 L471.8 1520.8 L473.6 1520.1 L475.3 1519.3 L477.1 1518.5 L478.8 1517.7 L480.5 1516.7 L482.3 1515.7 L484.0 1514.7 L485.8 1513.5 L487.5 1512.3 L489.2 1511.1 L491.0 1509.7 L492.7 1508.3 L494.5 1506.8 L496.2 1505.2 L498.0 1503.6 L499.7 1501.9 L501.4 1500.1 L503.2 1498.3 L504.9 1496.3 L506.7 1494.3 L508.4 1492.2 L510.1 1490.1 L511.9 1487.8 L513.6 1485.5 L515.4 1483.1 L517.1 1480.6 L518.8 1478.0 L520.6 1475.3 L522.3 1472.6 L524.1 1469.7 L525.8 1466.8 L527.6 1463.8 L529.3 1460.7 L531.0 1457.4 L532.8 1454.1 L534.5 1450.8 L536.3 1447.3 L538.0 1443.7 L539.7 1440.1 L541.5 1436.3 L543.2 1432.5 L545.0 1428.6 L546.7 1424.7 L548.4 1420.7 L550.2 1416.6 L551.9 1412.4 L553.7 1408.3 L555.4 1404.0 L557.2 1399.7 L558.9 1395.4 L560.6 1391.1 L562.4 1386.7 L564.1 1382.4 L565.9 1378.0 L567.6 1373.6 L569.3 1369.3 L571.1 1364.9 L572.8 1360.5 L574.6 1356.1 L576.3 1351.7 L578.0 1347.3 L579.8 1342.9 L581.5 1338.4 L583.3 1333.8 L585.0 1329.3 L586.8 1324.7 L588.5 1320.0 L590.2 1315.3 L592.0 1310.5 L593.7 1305.8 L595.5 1300.9 L597.2 1296.1 L598.9 1291.2 L600.7 1286.3 L602.4 1281.3 L604.2 1276.4 L605.9 1271.4 L607.6 1266.3 L609.4 1261.3 L611.1 1256.2 L612.9 1251.1 L614.6 1246.0 L616.4 1240.9 L618.1 1235.8 L619.8 1230.8 L621.6 1225.9 L623.3 1221.0 L625.1 1216.2 L626.8 1211.5 L628.5 1207.0 L630.3 1202.5 L632.0 1198.2 L633.8 1194.1 L635.5 1190.0 L637.2 1186.1 L639.0 1182.3 L640.7 1178.7 L642.5 1175.1 L644.2 1171.7 L646.0 1168.3 L647.7 1165.1 L649.4 1161.9 L651.2 1158.8 L652.9 1155.8 L654.7 1152.9 L656.4 1150.0 L658.1 1147.2 L659.9 1144.5 L661.6 1141.9 L663.4 1139.3 L665.1 1136.8 L666.8 1134.3 L668.6 1131.9 L670.3 1129.6 L672.1 1127.3 L673.8 1125.1 L675.6 1123.0 L677.3 1120.9 L679.0 1118.8 L680.8 1116.8 L682.5 1114.9 L684.3 1113.0 L686.0 1111.1 L687.7 1109.3 L689.5 1107.5 L691.2 1105.7 L693.0 1104.0 L694.7 1102.3 L696.4 1100.6 L698.2 1099.0 L699.9 1097.3 L701.7 1095.8 L703.4 1094.2 L705.2 1092.7 L706.9 1091.2 L708.6 1089.7 L710.4 1088.2 L712.1 1086.8 L713.9 1085.4 L715.6 1084.0 L717.3 1082.6 L719.1 1081.3 L720.8 1080.0 L722.6 1078.7 L724.3 1077.4 L726.0 1076.2 L727.8 1074.9 L729.5 1073.7 L731.3 1072.4 L733.0 1071.2 L734.8 1070.0 L736.5 1068.8 L738.2 1067.6 L740.0 1066.5 L741.7 1065.3 L743.5 1064.1 L745.2 1063.0 L746.9 1061.8 L748.7 1060.7 L750.4 1059.5 L752.2 1058.4 L753.9 1057.3 L755.6 1056.1 L757.4 1055.0 L759.1 1053.9 L760.9 1052.8 L762.6 1051.7 L764.4 1050.6 L766.1 1049.5 L767.8 1048.4 L769.6 1047.3 L771.3 1046.2 L773.1 1045.1 L774.8 1044.0 L776.5 1043.0 L778.3 1041.9 L780.0 1040.8 L781.8 1039.7 L783.5 1038.7 L785.2 1037.6 L787.0 1036.5 L788.7 1035.4 L790.5 1034.4 L792.2 1033.3 L793.9 1032.2 L795.7 1031.1 L797.4 1030.0 L799.2 1028.9 L800.9 1027.8 L802.7 1026.7 L804.4 1025.5 L806.1 1024.4 L807.9 1023.3 L809.6 1022.1 L811.4 1020.9 L813.1 1019.7 L814.8 1018.5 L816.6 1017.3 L818.3 1016.1 L820.1 1014.9 L821.8 1013.6 L823.5 1012.4 L825.3 1011.1 L827.0 1009.8 L828.8 1008.5 L830.5 1007.2 L832.3 1005.9 L834.0 1004.6 L835.7 1003.2 L837.5 1001.9 L839.2 1000.5 L841.0 999.2 L842.7 997.8 L844.4 996.5 L846.2 995.1 L847.9 993.7 L849.7 992.3 L851.4 991.0 L853.1 989.6 L854.9 988.2 L856.6 986.8 L858.4 985.4 L860.1 984.0 L861.9 982.6 L863.6 981.3 L865.3 979.9 L867.1 978.5 L868.8 977.1 L870.6 975.7 L872.3 974.4 L874.0 973.0 L875.8 971.6 L877.5 970.3 L879.3 968.9 L881.0 967.6 L882.7 966.2 L884.5 964.9 L886.2 963.6 L888.0 962.2 L889.7 960.9 L891.5 959.6 L893.2 958.3 L894.9 957.0 L896.7 955.7 L898.4 954.4 L900.2 953.1 L901.9 951.8 L903.6 950.5 L905.4 949.2 L907.1 947.9 L908.9 946.7 L910.6 945.4 L912.3 944.1 L914.1 942.8 L915.8 941.5 L917.6 940.3 L919.3 939.0 L921.1 937.7 L922.8 936.5 L924.5 935.2 L926.3 933.9 L928.0 932.7 L929.8 931.4 L931.5 930.1 L933.2 928.9 L935.0 927.6 L936.7 926.3 L938.5 925.1 L940.2 923.8 L941.9 922.5 L943.7 921.3 L945.4 920.0 L947.2 918.8 L948.9 917.5 L950.7 916.2 L952.4 915.0 L954.1 913.7 L955.9 912.4 L957.6 911.2 L959.4 909.9 L961.1 908.6 L962.8 907.4 L964.6 906.1 L966.3 904.8 L968.1 903.6 L969.8 902.3 L971.5 901.0 L973.3 899.7 L975.0 898.5 L976.8 897.2 L978.5 895.9 L980.3 894.6 L982.0 893.3 L983.7 892.1 L985.5 890.8 L987.2 889.5 L989.0 888.2 L990.7 887.0 L992.4 885.7 L994.2 884.4 L995.9 883.1 L997.7 881.8 L999.4 880.6 L1001.1 879.3 L1002.9 878.0 L1004.6 876.7 L1006.4 875.4 L1008.1 874.2 L1009.9 872.9 L1011.6 871.6 L1013.3 870.3 L1015.1 869.0 L1016.8 867.7 L1018.6 866.5 L1020.3 865.2 L1022.0 863.9 L1023.8 862.6 L1025.5 861.3 L1027.3 860.0 L1029.0 858.7 L1030.7 857.5 L1032.5 856.2 L1034.2 854.9 L1036.0 853.6 L1037.7 852.3 L1039.5 851.0 L1041.2 849.7 L1042.9 848.4 L1044.7 847.1 L1046.4 845.8 L1048.2 844.5 L1049.9 843.2 L1051.6 841.9 L1053.4 840.6 L1055.1 839.3 L1056.9 838.0 L1058.6 836.7 L1060.3 835.4 L1062.1 834.1 L1063.8 832.8 L1065.6 831.5 L1067.3 830.2 L1069.1 828.9 L1070.8 827.6 L1072.5 826.3 L1074.3 824.9 L1076.0 823.6 L1077.8 822.3 L1079.5 821.0 L1081.2 819.7 L1083.0 818.4 L1084.7 817.0 L1086.5 815.7 L1088.2 814.4 L1089.9 813.1 L1091.7 811.8 L1093.4 810.4 L1095.2 809.1 L1096.9 807.8 L1098.6 806.4 L1100.4 805.1 L1102.1 803.8 L1103.9 802.5 L1105.6 801.1 L1107.4 799.8 L1109.1 798.5 L1110.8 797.1 L1112.6 795.8 L1114.3 794.5 L1116.1 793.1 L1117.8 791.8 L1119.5 790.5 L1121.3 789.2 L1123.0 787.8 L1124.8 786.5 L1126.5 785.1 L1128.2 783.8 L1130.0 782.5 L1131.7 781.1 L1133.5 779.8 L1135.2 778.5 L1137.0 777.1 L1138.7 775.8 L1140.4 774.5 L1142.2 773.1 L1143.9 771.8 L1145.7 770.5 L1147.4 769.1 L1149.1 767.8 L1150.9 766.5 L1152.6 765.1 L1154.4 763.8 L1156.1 762.4 L1157.8 761.1 L1159.6 759.8 L1161.3 758.4 L1163.1 757.1 L1164.8 755.7 L1166.6 754.4 L1168.3 753.0 L1170.0 751.7 L1171.8 750.4 L1173.5 749.0 L1175.3 747.7 L1177.0 746.3 L1178.7 745.0 L1180.5 743.6 L1182.2 742.3 L1184.0 740.9 L1185.7 739.6 L1187.4 738.2 L1189.2 736.9 L1190.9 735.5 L1192.7 734.2 L1194.4 732.8 L1196.2 731.5 L1197.9 730.1 L1199.6 728.8 L1201.4 727.4 L1203.1 726.1 L1204.9 724.8 L1206.6 723.4 L1208.3 722.1 L1210.1 720.7 L1211.8 719.4 L1213.6 718.1 L1215.3 716.7 L1217.0 715.4 L1218.8 714.1 L1220.5 712.7 L1222.3 711.4 L1224.0 710.1 L1225.8 708.7 L1227.5 707.4 L1229.2 706.1 L1231.0 704.8 L1232.7 703.5 L1234.5 702.1 L1236.2 700.8 L1237.9 699.5 L1239.7 698.2 L1241.4 696.9 L1243.2 695.6 L1244.9 694.3 L1246.6 693.0 L1248.4 691.7 L1250.1 690.4 L1251.9 689.1 L1253.6 687.8 L1255.4 686.5 L1257.1 685.2 L1258.8 683.9 L1260.6 682.7 L1262.3 681.4 L1264.1 680.1 L1265.8 678.8 L1267.5 677.5 L1269.3 676.2 L1271.0 675.0 L1272.8 673.7 L1274.5 672.4 L1276.2 671.1 L1278.0 669.8 L1279.7 668.6 L1281.5 667.3 L1283.2 666.0 L1285.0 664.7 L1286.7 663.5 L1288.4 662.2 L1290.2 660.9 L1291.9 659.6 L1293.7 658.3 L1295.4 657.1 L1297.1 655.8 L1298.9 654.5 L1300.6 653.2 L1302.4 651.9 L1304.1 650.7 L1305.8 649.4 L1307.6 648.1 L1309.3 646.8 L1311.1 645.5 L1312.8 644.2 L1314.6 642.9 L1316.3 641.6 L1318.0 640.3 L1319.8 639.0 L1321.5 637.7 L1323.3 636.4 L1325.0 635.1 L1326.7 633.8 L1328.5 632.5 L1330.2 631.2 L1332.0 629.9 L1333.7 628.6 L1335.4 627.3 L1337.2 625.9 L1338.9 624.6 L1340.7 623.3 L1342.4 622.0 L1344.2 620.7 L1345.9 619.4 L1347.6 618.0 L1349.4 616.7 L1351.1 615.4 L1352.9 614.1 L1354.6 612.8 L1356.3 611.4 L1358.1 610.1 L1359.8 608.8 L1361.6 607.5 L1363.3 606.1 L1365.0 604.8 L1366.8 603.5 L1368.5 602.1 L1370.3 600.8 L1372.0 599.5 L1373.8 598.2 L1375.5 596.8 L1377.2 595.5 L1379.0 594.2 L1380.7 592.8 L1382.5 591.5 L1384.2 590.2 L1385.9 588.8 L1387.7 587.5 L1389.4 586.2 L1391.2 584.8 L1392.9 583.5 L1394.6 582.1 L1396.4 580.8 L1398.1 579.5 L1399.9 578.1 L1401.6 576.8 L1403.3 575.5 L1405.1 574.1 L1406.8 572.8 L1408.6 571.4 L1410.3 570.1 L1412.1 568.7 L1413.8 567.4 L1415.5 566.1 L1417.3 564.7 L1419.0 563.4 L1420.8 562.0 L1422.5 560.7 L1424.2 559.3 L1426.0 558.0 L1427.7 556.6 L1429.5 555.3 L1431.2 553.9 L1432.9 552.6 L1434.7 551.2 L1436.4 549.8 L1438.2 548.5 L1439.9 547.1 L1441.7 545.8 L1443.4 544.4 L1445.1 543.0 L1446.9 541.7 L1448.6 540.3 L1450.4 539.0 L1452.1 537.6 L1453.8 536.2 L1455.6 534.9 L1457.3 533.5 L1459.1 532.2 L1460.8 530.8 L1462.5 529.5 L1464.3 528.1 L1466.0 526.7 L1467.8 525.4 L1469.5 524.0 L1471.3 522.7 L1473.0 521.3 L1474.7 520.0 L1476.5 518.6 L1478.2 517.2 L1480.0 515.9 L1481.7 514.5 L1483.4 513.2 L1485.2 511.8 L1486.9 510.5 L1488.7 509.2 L1490.4 507.8 L1492.1 506.5 L1493.9 505.1 L1495.6 503.8 L1497.4 502.5 L1499.1 501.1 L1500.9 499.8 L1502.6 498.4 L1504.3 497.1 L1506.1 495.8 L1507.8 494.5 L1509.6 493.1 L1511.3 491.8 L1513.0 490.5 L1514.8 489.1 L1516.5 487.8 L1518.3 486.5 L1520.0 485.2 L1521.7 483.9 L1523.5 482.5 L1525.2 481.2 L1527.0 479.9 L1528.7 478.6 L1530.5 477.3 L1532.2 476.0 L1533.9 474.6 L1535.7 473.3 L1537.4 472.0 L1539.2 470.7 L1540.9 469.4 L1542.6 468.1 L1544.4 466.7 L1546.1 465.4 L1547.9 464.1 L1549.6 462.8 L1551.3 461.5 L1553.1 460.2 L1554.8 458.9 L1556.6 457.5 L1558.3 456.2 L1560.1 454.9 L1561.8 453.6 L1563.5 452.3 L1565.3 451.0 L1567.0 449.6 L1568.8 448.3 L1570.5 447.0 L1572.2 445.7 L1574.0 444.3 L1575.7 443.0 L1577.5 441.7 L1579.2 440.4 L1580.9 439.0 L1582.7 437.7 L1584.4 436.4 L1586.2 435.0 L1587.9 433.7 L1589.7 432.4 L1591.4 431.0 L1593.1 429.7 L1594.9 428.4 L1596.6 427.0 L1598.4 425.7 L1600.1 424.3 L1601.8 423.0 L1603.6 421.6 L1605.3 420.3 L1607.1 419.0 L1608.8 417.6 L1610.5 416.3 L1612.3 414.9 L1614.0 413.6 L1615.8 412.2 L1617.5 410.8 L1619.3 409.5 L1621.0 408.1 L1622.7 406.8 L1624.5 405.4 L1626.2 404.1 L1628.0 402.7 L1629.7 401.4 L1631.4 400.0 L1633.2 398.7 L1634.9 397.3 L1636.7 396.0 L1638.4 394.7 L1640.1 393.3 L1641.9 392.0 L1643.6 390.6 L1645.4 389.3 L1647.1 387.9 L1648.9 386.6 L1650.6 385.3 L1652.3 383.9 L1654.1 382.6 L1655.8 381.3 L1657.6 380.0 L1659.3 378.6 L1661.0 377.3 L1662.8 376.0 L1664.5 374.7 L1666.3 373.4 L1668.0 372.1 L1669.7 370.7 L1671.5 369.4 L1673.2 368.1 L1675.0 366.8 L1676.7 365.5 L1678.5 364.3 L1680.2 363.0 L1681.9 361.7 L1683.7 360.4 L1685.4 359.1 L1687.2 357.8 L1688.9 356.6 L1690.6 355.3 L1692.4 354.0 L1694.1 352.7 L1695.9 351.5 L1697.6 350.2 L1699.3 348.9 L1701.1 347.7 L1702.8 346.4 L1704.6 345.1 L1706.3 343.9 L1708.0 342.6 L1709.8 341.3 L1711.5 340.1 L1713.3 338.8 L1715.0 337.5 L1716.8 336.3 L1718.5 335.0 L1720.2 333.7 L1722.0 332.5 L1723.7 331.2 L1725.5 329.9 L1727.2 328.7 L1728.9 327.4 L1730.7 326.1 L1732.4 324.8 L1734.2 323.5 L1735.9 322.3 L1737.6 321.0 L1739.4 319.7 L1741.1 318.4 L1742.9 317.2 L1744.6 315.9 L1746.4 314.7 L1748.1 313.4 L1749.8 312.2 L1751.6 311.0 L1753.3 309.8 L1755.1 308.7 L1756.8 307.5 L1758.5 306.4 L1760.3 305.2 L1762.0 304.1 L1763.8 303.0 L1765.5 302.0 L1767.2 300.9 L1769.0 299.9 L1770.7 298.9 L1772.5 297.9 L1774.2 296.9 L1776.0 296.0 L1777.7 295.1 L1779.4 294.2 L1781.2 293.3 L1782.9 292.5 L1784.7 291.7 L1786.4 290.9 L1788.1 290.1 L1789.9 289.4 L1791.6 288.7 L1793.4 288.1 L1795.1 287.5 L1796.8 286.9 L1798.6 286.3 L1800.3 285.7 L1802.1 285.2 L1803.8 284.7 L1805.6 284.2 L1807.3 283.7 L1809.0 283.2 L1810.8 282.8 L1812.5 282.3 L1814.3 281.9 L1816.0 281.5 L1817.7 281.1 L1819.5 280.8 L1821.2 280.4 L1823.0 280.1 L1824.7 279.8 L1826.4 279.5 L1828.2 279.3 L1829.9 279.1 L1831.7 278.9 L1833.4 278.7 L1835.2 278.6 L1836.9 278.5 L1838.6 278.5 L1840.4 278.4 L1842.1 278.4 L1843.9 278.5 L1845.6 278.5 L1847.3 278.7 L1849.1 278.8 L1850.8 279.0 L1852.6 279.2 L1854.3 279.4 L1856.0 279.7 L1857.8 280.0 L1859.5 280.4 L1861.3 280.7 L1863.0 281.1 L1864.8 281.5 L1866.5 282.0 L1868.2 282.5 L1870.0 283.0 L1871.7 283.5 L1873.5 284.1 L1875.2 284.7 L1876.9 285.4 L1878.7 286.1 L1880.4 286.8 L1882.2 287.6 L1883.9 288.5 L1885.6 289.4 L1887.4 290.4 L1889.1 291.4 L1890.9 292.6 L1892.6 293.8 L1894.4 295.0 L1896.1 296.4 L1897.8 297.8 L1899.6 299.3 L1901.3 300.9 L1903.1 302.5 L1904.8 304.2 L1906.5 306.0 L1908.3 307.8 L1910.0 309.7 L1911.8 311.6 L1913.5 313.6 L1915.2 315.7 L1917.0 317.8 L1918.7 320.0 L1920.5 322.2 L1922.2 324.5 L1924.0 326.9 L1925.7 329.3 L1927.4 331.8 L1929.2 334.4 L1930.9 337.0 L1932.7 339.7 L1934.4 342.5 L1936.1 345.3 L1937.9 348.2 L1939.6 351.2 L1941.4 354.3 L1943.1 357.4 L1944.8 360.5 L1946.6 363.8 L1948.3 367.0 L1950.1 370.4 L1951.8 373.8 L1953.6 377.3 L1955.3 380.8 L1957.0 384.3 L1958.8 388.0 L1960.5 391.6 L1962.3 395.3 L1964.0 399.1 L1965.7 403.0 L1967.5 406.8 L1969.2 410.8 L1971.0 414.7 L1972.7 418.8 L1974.4 422.9 L1976.2 427.0 L1977.9 431.2 L1979.7 435.4 L1981.4 439.6 L1983.2 443.9 L1984.9 448.3 L1986.6 452.7 L1988.4 457.1 L1990.1 461.6 L1991.9 466.1 L1993.6 470.6 L1995.3 475.2 L1997.1 479.8 L1998.8 484.4 L2000.6 489.1 L2002.3 493.9 L2004.0 498.6 L2005.8 503.5 L2007.5 508.3 L2009.3 513.2 L2011.0 518.2 L2012.7 523.2 L2014.5 528.3 L2016.2 533.4 L2018.0 538.6 L2019.7 543.8 L2021.5 549.1 L2023.2 554.4 L2024.9 559.8 L2026.7 565.3 L2028.4 570.8 L2030.2 576.3 L2031.9 581.9 L2033.6 587.5 L2035.4 593.1 L2037.1 598.8 L2038.9 604.5 L2040.6 610.2 L2042.3 615.9 L2044.1 621.6 L2045.8 627.4 L2047.6 633.1 L2049.3 638.8 L2051.1 644.6 L2052.8 650.3 L2054.5 656.0 L2056.3 661.8 L2058.0 667.6 L2059.8 673.4 L2061.5 679.2 L2063.2 685.1 L2065.0 691.1 L2066.7 697.1 L2068.5 703.2 L2070.2 709.3 L2071.9 715.6 L2073.7 721.9 L2075.4 728.4 L2077.2 734.9 L2078.9 741.5 L2080.7 748.2 L2082.4 755.0 L2084.1 761.8 L2085.9 768.8 L2087.6 775.7 L2089.4 782.8 L2091.1 789.8 L2092.8 796.9 L2094.6 804.0 L2096.3 811.0 L2098.1 818.1 L2099.8 825.1 L2101.5 832.1 L2103.3 839.1 L2105.0 846.0 L2106.8 852.9 L2108.5 859.7 L2110.3 866.5 L2112.0 873.3 L2113.7 880.0 L2115.5 886.6 L2117.2 893.3 L2119.0 899.9 L2120.7 906.5 L2122.4 913.1 L2124.2 919.7 L2125.9 926.3 L2127.7 933.0 L2129.4 939.7 L2131.1 946.5 L2132.9 953.3 L2134.6 960.2 L2136.4 967.1 L2138.1 974.1 L2139.9 981.3 L2141.6 988.5 L2143.3 995.7 L2145.1 1003.1 L2146.8 1010.5 L2148.6 1018.0 L2150.3 1025.5 L2152.0 1033.1 L2153.8 1040.7 L2155.5 1048.3 L2157.3 1055.9 L2159.0 1063.4 L2160.7 1070.9 L2162.5 1078.3 L2164.2 1085.6 L2166.0 1092.9 L2167.7 1100.0 L2169.5 1106.9 L2171.2 1113.8 L2172.9 1120.5 L2174.7 1127.0 L2176.4 1133.5 L2178.2 1139.8 L2179.9 1145.9 L2181.6 1152.0 L2183.4 1157.9 L2185.1 1163.7 L2186.9 1169.5 L2188.6 1175.2 L2190.3 1180.8 L2192.1 1186.4 L2193.8 1192.0 L2195.6 1197.5 L2197.3 1203.0 L2199.1 1208.5 L2200.8 1214.0 L2202.5 1219.4 L2204.3 1224.8 L2206.0 1230.2 L2207.8 1235.6 L2209.5 1240.9 L2211.2 1246.1 L2213.0 1251.4 L2214.7 1256.5 L2216.5 1261.6 L2218.2 1266.6 L2219.9 1271.6 L2221.7 1276.4 L2223.4 1281.2 L2225.2 1285.9 L2226.9 1290.6 L2228.7 1295.1 L2230.4 1299.6 L2232.1 1303.9 L2233.9 1308.2 L2235.6 1312.5 L2237.4 1316.6 L2239.1 1320.6 L2240.8 1324.6 L2242.6 1328.5 L2244.3 1332.4 L2246.1 1336.1 L2247.8 1339.8 L2249.5 1343.4 L2251.3 1346.9 L2253.0 1350.4 L2254.8 1353.8 L2256.5 1357.1 L2258.3 1360.4 L2260.0 1363.6 L2261.7 1366.7 L2263.5 1369.8 L2265.2 1372.8 L2267.0 1375.8 L2268.7 1378.7 L2270.4 1381.6 L2272.2 1384.4 L2273.9 1387.2 L2275.7 1389.9 L2277.4 1392.6 L2279.1 1395.2 L2280.9 1397.8 L2282.6 1400.3 L2284.4 1402.8 L2286.1 1405.3 L2287.9 1407.7 L2289.6 1410.1 L2291.3 1412.4 L2293.1 1414.7 L2294.8 1417.0 L2296.6 1419.2 L2298.3 1421.4 L2300.0 1423.5 L2301.8 1425.7 L2303.5 1427.7 L2305.3 1429.8 L2307.0 1431.8 L2308.7 1433.8 L2310.5 1435.7 L2312.2 1437.6 L2314.0 1439.5 L2315.7 1441.3 L2317.4 1443.1 L2319.2 1444.9 L2320.9 1446.7 L2322.7 1448.4 L2324.4 1450.1 L2326.2 1451.8 L2327.9 1453.4 L2329.6 1455.1 L2331.4 1456.7 L2333.1 1458.3 L2334.9 1459.8 L2336.6 1461.4 L2338.3 1462.9 L2340.1 1464.4 L2341.8 1465.8 L2343.6 1467.3 L2345.3 1468.7 L2347.0 1470.1 L2348.8 1471.4 L2350.5 1472.8 L2352.3 1474.1 L2354.0 1475.4 L2355.8 1476.6 L2357.5 1477.8 L2359.2 1479.0 L2361.0 1480.2 L2362.7 1481.3 L2364.5 1482.4 L2366.2 1483.5 L2367.9 1484.5 L2369.7 1485.6 L2371.4 1486.6 L2373.2 1487.5 L2374.9 1488.5 L2376.6 1489.4 L2378.4 1490.3 L2380.1 1491.2 L2381.9 1492.1 L2383.6 1492.9 L2385.4 1493.7 L2387.1 1494.5 L2388.8 1495.3 L2390.6 1496.1 L2392.3 1496.8 L2394.1 1497.5 L2395.8 1498.2 L2397.5 1498.9 L2399.3 1499.5 L2401.0 1500.1 L2402.8 1500.7 L2404.5 1501.3 L2406.2 1501.9 L2408.0 1502.4 L2409.7 1502.9 L2411.5 1503.4 L2413.2 1503.9 L2415.0 1504.4 L2416.7 1504.9 L2418.4 1505.4 L2420.2 1505.8 L2421.9 1506.2 L2423.7 1506.7 L2425.4 1507.1 L2427.1 1507.5 L2428.9 1507.9 L2430.6 1508.2 L2432.4 1508.6 L2434.1 1508.9 L2435.8 1509.3 L2437.6 1509.6 L2439.3 1509.9 L2441.1 1510.2 L2442.8 1510.5 L2444.6 1510.7 L2446.3 1511.0 L2448.0 1511.2 L2449.8 1511.4 L2451.5 1511.6 L2453.3 1511.8 L2455.0 1512.0" fill="none" stroke="#00FF00" stroke-width="11" stroke-linejoin="round" stroke-linecap="butt"/>
<g fill="none" stroke="#FFB000" stroke-width="3.2" stroke-linejoin="miter" stroke-miterlimit="10">
<rect x="180.6" y="1503" width="23.1" height="23.1"/>
<rect x="267.7" y="1460.4" width="23.1" height="23.1"/>
<rect x="354.7" y="1415.2" width="23.1" height="23.1"/>
<rect x="441.7" y="1371.6" width="23.1" height="23.1"/>
<rect x="528.8" y="1330.8" width="23.1" height="23.1"/>
<rect x="615.8" y="1287.9" width="23.1" height="23.1"/>
<rect x="702.8" y="1239" width="23.1" height="23.1"/>
<rect x="789.9" y="1192.8" width="23.1" height="23.1"/>
<rect x="876.9" y="1149.9" width="23.1" height="23.1"/>
<rect x="963.9" y="1197.5" width="23.1" height="23.1"/>
<rect x="1051" y="1235" width="23.1" height="23.1"/>
<rect x="1138" y="1287.9" width="23.1" height="23.1"/>
<rect x="1225" y="1369" width="23.1" height="23.1"/>
<rect x="1312.1" y="1449.4" width="23.1" height="23.1"/>
<rect x="1399.1" y="1476.2" width="23.1" height="23.1"/>
<rect x="1486.1" y="1503" width="23.1" height="23.1"/>
<rect x="1573.1" y="1503" width="23.1" height="23.1"/>
<rect x="1660.2" y="1503" width="23.1" height="23.1"/>
<rect x="1747.2" y="1503" width="23.1" height="23.1"/>
<rect x="1834.2" y="1503" width="23.1" height="23.1"/>
<rect x="1921.3" y="1503" width="23.1" height="23.1"/>
<rect x="2008.3" y="1503" width="23.1" height="23.1"/>
<rect x="2095.3" y="1503" width="23.1" height="23.1"/>
<rect x="2182.4" y="1503" width="23.1" height="23.1"/>
<rect x="2269.4" y="1503" width="23.1" height="23.1"/>
<rect x="2356.4" y="1503" width="23.1" height="23.1"/>
<rect x="2443.4" y="1503" width="23.1" height="23.1"/>
</g>
<path clip-path="url(#ax)" d="M192.2 1514.5 L193.9 1513.6 L195.7 1512.8 L197.4 1511.9 L199.2 1511.0 L200.9 1510.1 L202.6 1509.3 L204.4 1508.4 L206.1 1507.5 L207.9 1506.7 L209.6 1505.8 L211.3 1504.9 L213.1 1504.0 L214.8 1503.2 L216.6 1502.3 L218.3 1501.4 L220.0 1500.6 L221.8 1499.7 L223.5 1498.8 L225.3 1498.0 L227.0 1497.1 L228.8 1496.2 L230.5 1495.3 L232.2 1494.5 L234.0 1493.6 L235.7 1492.7 L237.5 1491.9 L239.2 1491.0 L240.9 1490.1 L242.7 1489.2 L244.4 1488.4 L246.2 1487.5 L247.9 1486.6 L249.6 1485.8 L251.4 1484.9 L253.1 1484.0 L254.9 1483.1 L256.6 1482.3 L258.3 1481.4 L260.1 1480.5 L261.8 1479.7 L263.6 1478.8 L265.3 1477.9 L267.0 1477.1 L268.8 1476.2 L270.5 1475.3 L272.3 1474.4 L274.0 1473.6 L275.7 1472.7 L277.5 1471.8 L279.2 1471.0 L281.0 1470.1 L282.7 1469.2 L284.5 1468.3 L286.2 1467.5 L287.9 1466.6 L289.7 1465.7 L291.4 1464.8 L293.2 1464.0 L294.9 1463.1 L296.6 1462.2 L298.4 1461.4 L300.1 1460.5 L301.9 1459.6 L303.6 1458.7 L305.3 1457.9 L307.1 1457.0 L308.8 1456.1 L310.6 1455.2 L312.3 1454.4 L314.0 1453.5 L315.8 1452.6 L317.5 1451.8 L319.3 1450.9 L321.0 1450.0 L322.7 1449.1 L324.5 1448.3 L326.2 1447.4 L328.0 1446.5 L329.7 1445.7 L331.4 1444.8 L333.2 1443.9 L334.9 1443.0 L336.7 1442.2 L338.4 1441.3 L340.2 1440.4 L341.9 1439.6 L343.6 1438.7 L345.4 1437.8 L347.1 1436.9 L348.9 1436.1 L350.6 1435.2 L352.3 1434.3 L354.1 1433.5 L355.8 1432.6 L357.6 1431.7 L359.3 1430.9 L361.0 1430.0 L362.8 1429.1 L364.5 1428.3 L366.3 1427.4 L368.0 1426.6 L369.7 1425.7 L371.5 1424.8 L373.2 1424.0 L375.0 1423.1 L376.7 1422.2 L378.4 1421.4 L380.2 1420.5 L381.9 1419.7 L383.7 1418.8 L385.4 1417.9 L387.1 1417.1 L388.9 1416.2 L390.6 1415.4 L392.4 1414.5 L394.1 1413.6 L395.9 1412.8 L397.6 1411.9 L399.3 1411.1 L401.1 1410.2 L402.8 1409.4 L404.6 1408.5 L406.3 1407.6 L408.0 1406.8 L409.8 1405.9 L411.5 1405.1 L413.3 1404.2 L415.0 1403.4 L416.7 1402.5 L418.5 1401.6 L420.2 1400.8 L422.0 1399.9 L423.7 1399.1 L425.4 1398.2 L427.2 1397.4 L428.9 1396.5 L430.7 1395.7 L432.4 1394.8 L434.1 1393.9 L435.9 1393.1 L437.6 1392.2 L439.4 1391.4 L441.1 1390.5 L442.8 1389.7 L444.6 1388.8 L446.3 1388.0 L448.1 1387.1 L449.8 1386.2 L451.6 1385.4 L453.3 1384.5 L455.0 1383.7 L456.8 1382.8 L458.5 1382.0 L460.3 1381.1 L462.0 1380.3 L463.7 1379.4 L465.5 1378.6 L467.2 1377.7 L469.0 1376.8 L470.7 1376.0 L472.4 1375.1 L474.2 1374.3 L475.9 1373.4 L477.7 1372.6 L479.4 1371.7 L481.1 1370.9 L482.9 1370.0 L484.6 1369.2 L486.4 1368.3 L488.1 1367.5 L489.8 1366.6 L491.6 1365.8 L493.3 1364.9 L495.1 1364.1 L496.8 1363.2 L498.5 1362.4 L500.3 1361.5 L502.0 1360.6 L503.8 1359.8 L505.5 1358.9 L507.3 1358.1 L509.0 1357.2 L510.7 1356.4 L512.5 1355.5 L514.2 1354.6 L516.0 1353.8 L517.7 1352.9 L519.4 1352.1 L521.2 1351.2 L522.9 1350.3 L524.7 1349.5 L526.4 1348.6 L528.1 1347.7 L529.9 1346.9 L531.6 1346.0 L533.4 1345.1 L535.1 1344.3 L536.8 1343.4 L538.6 1342.5 L540.3 1341.6 L542.1 1340.8 L543.8 1339.9 L545.5 1339.0 L547.3 1338.1 L549.0 1337.3 L550.8 1336.4 L552.5 1335.5 L554.2 1334.6 L556.0 1333.7 L557.7 1332.9 L559.5 1332.0 L561.2 1331.1 L563.0 1330.2 L564.7 1329.3 L566.4 1328.4 L568.2 1327.6 L569.9 1326.7 L571.7 1325.8 L573.4 1324.9 L575.1 1324.0 L576.9 1323.1 L578.6 1322.2 L580.4 1321.3 L582.1 1320.5 L583.8 1319.6 L585.6 1318.7 L587.3 1317.8 L589.1 1316.9 L590.8 1316.0 L592.5 1315.1 L594.3 1314.2 L596.0 1313.3 L597.8 1312.4 L599.5 1311.5 L601.2 1310.6 L603.0 1309.6 L604.7 1308.7 L606.5 1307.8 L608.2 1306.9 L609.9 1306.0 L611.7 1305.1 L613.4 1304.2 L615.2 1303.2 L616.9 1302.3 L618.7 1301.4 L620.4 1300.5 L622.1 1299.5 L623.9 1298.6 L625.6 1297.7 L627.4 1296.7 L629.1 1295.8 L630.8 1294.8 L632.6 1293.9 L634.3 1292.9 L636.1 1292.0 L637.8 1291.0 L639.5 1290.1 L641.3 1289.1 L643.0 1288.2 L644.8 1287.2 L646.5 1286.2 L648.2 1285.3 L650.0 1284.3 L651.7 1283.3 L653.5 1282.4 L655.2 1281.4 L656.9 1280.4 L658.7 1279.4 L660.4 1278.4 L662.2 1277.5 L663.9 1276.5 L665.6 1275.5 L667.4 1274.5 L669.1 1273.5 L670.9 1272.5 L672.6 1271.6 L674.4 1270.6 L676.1 1269.6 L677.8 1268.6 L679.6 1267.6 L681.3 1266.6 L683.1 1265.6 L684.8 1264.6 L686.5 1263.6 L688.3 1262.6 L690.0 1261.7 L691.8 1260.7 L693.5 1259.7 L695.2 1258.7 L697.0 1257.7 L698.7 1256.7 L700.5 1255.7 L702.2 1254.7 L703.9 1253.8 L705.7 1252.8 L707.4 1251.8 L709.2 1250.8 L710.9 1249.8 L712.6 1248.9 L714.4 1247.9 L716.1 1246.9 L717.9 1245.9 L719.6 1245.0 L721.3 1244.0 L723.1 1243.0 L724.8 1242.0 L726.6 1241.1 L728.3 1240.1 L730.1 1239.1 L731.8 1238.2 L733.5 1237.2 L735.3 1236.2 L737.0 1235.3 L738.8 1234.3 L740.5 1233.3 L742.2 1232.3 L744.0 1231.4 L745.7 1230.4 L747.5 1229.4 L749.2 1228.4 L750.9 1227.5 L752.7 1226.5 L754.4 1225.5 L756.2 1224.5 L757.9 1223.5 L759.6 1222.5 L761.4 1221.5 L763.1 1220.4 L764.9 1219.4 L766.6 1218.4 L768.3 1217.4 L770.1 1216.3 L771.8 1215.3 L773.6 1214.2 L775.3 1213.2 L777.0 1212.2 L778.8 1211.1 L780.5 1210.1 L782.3 1209.1 L784.0 1208.1 L785.7 1207.1 L787.5 1206.1 L789.2 1205.1 L791.0 1204.2 L792.7 1203.2 L794.5 1202.3 L796.2 1201.4 L797.9 1200.5 L799.7 1199.6 L801.4 1198.7 L803.2 1197.9 L804.9 1197.0 L806.6 1196.2 L808.4 1195.4 L810.1 1194.6 L811.9 1193.8 L813.6 1193.1 L815.3 1192.3 L817.1 1191.5 L818.8 1190.8 L820.6 1190.1 L822.3 1189.4 L824.0 1188.7 L825.8 1188.0 L827.5 1187.4 L829.3 1186.7 L831.0 1186.1 L832.7 1185.5 L834.5 1184.9 L836.2 1184.4 L838.0 1183.8 L839.7 1183.3 L841.4 1182.8 L843.2 1182.3 L844.9 1181.9 L846.7 1181.4 L848.4 1181.0 L850.2 1180.6 L851.9 1180.2 L853.6 1179.9 L855.4 1179.5 L857.1 1179.2 L858.9 1178.8 L860.6 1178.5 L862.3 1178.2 L864.1 1177.9 L865.8 1177.6 L867.6 1177.4 L869.3 1177.1 L871.0 1176.9 L872.8 1176.7 L874.5 1176.5 L876.3 1176.3 L878.0 1176.1 L879.7 1176.0 L881.5 1175.9 L883.2 1175.8 L885.0 1175.7 L886.7 1175.7 L888.4 1175.7 L890.2 1175.7 L891.9 1175.8 L893.7 1175.8 L895.4 1175.9 L897.1 1176.1 L898.9 1176.2 L900.6 1176.4 L902.4 1176.6 L904.1 1176.8 L905.9 1177.0 L907.6 1177.3 L909.3 1177.6 L911.1 1177.9 L912.8 1178.2 L914.6 1178.5 L916.3 1178.8 L918.0 1179.2 L919.8 1179.6 L921.5 1180.0 L923.3 1180.4 L925.0 1180.8 L926.7 1181.3 L928.5 1181.7 L930.2 1182.2 L932.0 1182.7 L933.7 1183.2 L935.4 1183.8 L937.2 1184.4 L938.9 1184.9 L940.7 1185.5 L942.4 1186.2 L944.1 1186.8 L945.9 1187.5 L947.6 1188.1 L949.4 1188.8 L951.1 1189.5 L952.8 1190.3 L954.6 1191.0 L956.3 1191.7 L958.1 1192.5 L959.8 1193.3 L961.6 1194.1 L963.3 1194.9 L965.0 1195.7 L966.8 1196.5 L968.5 1197.4 L970.3 1198.2 L972.0 1199.0 L973.7 1199.9 L975.5 1200.7 L977.2 1201.6 L979.0 1202.4 L980.7 1203.2 L982.4 1204.1 L984.2 1204.9 L985.9 1205.8 L987.7 1206.6 L989.4 1207.5 L991.1 1208.3 L992.9 1209.2 L994.6 1210.0 L996.4 1210.9 L998.1 1211.7 L999.8 1212.6 L1001.6 1213.4 L1003.3 1214.3 L1005.1 1215.1 L1006.8 1216.0 L1008.5 1216.9 L1010.3 1217.8 L1012.0 1218.6 L1013.8 1219.5 L1015.5 1220.4 L1017.3 1221.3 L1019.0 1222.2 L1020.7 1223.1 L1022.5 1224.0 L1024.2 1224.9 L1026.0 1225.9 L1027.7 1226.8 L1029.4 1227.7 L1031.2 1228.7 L1032.9 1229.6 L1034.7 1230.6 L1036.4 1231.5 L1038.1 1232.5 L1039.9 1233.4 L1041.6 1234.4 L1043.4 1235.4 L1045.1 1236.4 L1046.8 1237.3 L1048.6 1238.3 L1050.3 1239.3 L1052.1 1240.3 L1053.8 1241.3 L1055.5 1242.3 L1057.3 1243.2 L1059.0 1244.2 L1060.8 1245.2 L1062.5 1246.2 L1064.2 1247.2 L1066.0 1248.2 L1067.7 1249.2 L1069.5 1250.2 L1071.2 1251.1 L1073.0 1252.1 L1074.7 1253.1 L1076.4 1254.1 L1078.2 1255.1 L1079.9 1256.1 L1081.7 1257.1 L1083.4 1258.1 L1085.1 1259.2 L1086.9 1260.2 L1088.6 1261.2 L1090.4 1262.2 L1092.1 1263.3 L1093.8 1264.3 L1095.6 1265.4 L1097.3 1266.4 L1099.1 1267.5 L1100.8 1268.6 L1102.5 1269.7 L1104.3 1270.8 L1106.0 1271.9 L1107.8 1273.0 L1109.5 1274.1 L1111.2 1275.2 L1113.0 1276.4 L1114.7 1277.5 L1116.5 1278.7 L1118.2 1279.8 L1119.9 1281.0 L1121.7 1282.2 L1123.4 1283.4 L1125.2 1284.6 L1126.9 1285.8 L1128.7 1287.0 L1130.4 1288.2 L1132.1 1289.4 L1133.9 1290.7 L1135.6 1291.9 L1137.4 1293.2 L1139.1 1294.5 L1140.8 1295.8 L1142.6 1297.1 L1144.3 1298.4 L1146.1 1299.7 L1147.8 1301.0 L1149.5 1302.4 L1151.3 1303.8 L1153.0 1305.1 L1154.8 1306.5 L1156.5 1308.0 L1158.2 1309.4 L1160.0 1310.8 L1161.7 1312.3 L1163.5 1313.8 L1165.2 1315.2 L1166.9 1316.7 L1168.7 1318.2 L1170.4 1319.8 L1172.2 1321.3 L1173.9 1322.9 L1175.6 1324.4 L1177.4 1326.0 L1179.1 1327.6 L1180.9 1329.1 L1182.6 1330.7 L1184.4 1332.3 L1186.1 1334.0 L1187.8 1335.6 L1189.6 1337.2 L1191.3 1338.8 L1193.1 1340.5 L1194.8 1342.1 L1196.5 1343.7 L1198.3 1345.4 L1200.0 1347.0 L1201.8 1348.7 L1203.5 1350.3 L1205.2 1352.0 L1207.0 1353.6 L1208.7 1355.3 L1210.5 1356.9 L1212.2 1358.6 L1213.9 1360.2 L1215.7 1361.8 L1217.4 1363.5 L1219.2 1365.1 L1220.9 1366.7 L1222.6 1368.3 L1224.4 1370.0 L1226.1 1371.6 L1227.9 1373.2 L1229.6 1374.8 L1231.3 1376.4 L1233.1 1377.9 L1234.8 1379.5 L1236.6 1381.1 L1238.3 1382.7 L1240.1 1384.3 L1241.8 1385.8 L1243.5 1387.4 L1245.3 1389.0 L1247.0 1390.5 L1248.8 1392.1 L1250.5 1393.6 L1252.2 1395.2 L1254.0 1396.7 L1255.7 1398.3 L1257.5 1399.8 L1259.2 1401.3 L1260.9 1402.9 L1262.7 1404.4 L1264.4 1405.9 L1266.2 1407.4 L1267.9 1408.9 L1269.6 1410.4 L1271.4 1411.9 L1273.1 1413.4 L1274.9 1414.9 L1276.6 1416.3 L1278.3 1417.8 L1280.1 1419.3 L1281.8 1420.7 L1283.6 1422.2 L1285.3 1423.6 L1287.0 1425.0 L1288.8 1426.5 L1290.5 1427.9 L1292.3 1429.3 L1294.0 1430.7 L1295.8 1432.1 L1297.5 1433.5 L1299.2 1434.9 L1301.0 1436.2 L1302.7 1437.6 L1304.5 1438.9 L1306.2 1440.2 L1307.9 1441.5 L1309.7 1442.8 L1311.4 1444.1 L1313.2 1445.3 L1314.9 1446.5 L1316.6 1447.7 L1318.4 1448.9 L1320.1 1450.0 L1321.9 1451.1 L1323.6 1452.2 L1325.3 1453.2 L1327.1 1454.3 L1328.8 1455.3 L1330.6 1456.3 L1332.3 1457.3 L1334.0 1458.2 L1335.8 1459.1 L1337.5 1460.1 L1339.3 1461.0 L1341.0 1461.8 L1342.7 1462.7 L1344.5 1463.6 L1346.2 1464.4 L1348.0 1465.3 L1349.7 1466.1 L1351.4 1466.9 L1353.2 1467.7 L1354.9 1468.5 L1356.7 1469.3 L1358.4 1470.1 L1360.2 1470.8 L1361.9 1471.6 L1363.6 1472.4 L1365.4 1473.1 L1367.1 1473.9 L1368.9 1474.6 L1370.6 1475.4 L1372.3 1476.1 L1374.1 1476.9 L1375.8 1477.6 L1377.6 1478.3 L1379.3 1479.0 L1381.0 1479.7 L1382.8 1480.5 L1384.5 1481.2 L1386.3 1481.8 L1388.0 1482.5 L1389.7 1483.2 L1391.5 1483.9 L1393.2 1484.6 L1395.0 1485.2 L1396.7 1485.9 L1398.4 1486.5 L1400.2 1487.1 L1401.9 1487.8 L1403.7 1488.4 L1405.4 1489.0 L1407.1 1489.6 L1408.9 1490.2 L1410.6 1490.8 L1412.4 1491.4 L1414.1 1492.0 L1415.9 1492.5 L1417.6 1493.1 L1419.3 1493.7 L1421.1 1494.2 L1422.8 1494.8 L1424.6 1495.3 L1426.3 1495.8 L1428.0 1496.4 L1429.8 1496.9 L1431.5 1497.4 L1433.3 1497.9 L1435.0 1498.4 L1436.7 1498.9 L1438.5 1499.4 L1440.2 1499.9 L1442.0 1500.4 L1443.7 1500.8 L1445.4 1501.3 L1447.2 1501.7 L1448.9 1502.2 L1450.7 1502.6 L1452.4 1503.1 L1454.1 1503.5 L1455.9 1504.0 L1457.6 1504.4 L1459.4 1504.8 L1461.1 1505.2 L1462.8 1505.7 L1464.6 1506.1 L1466.3 1506.5 L1468.1 1506.9 L1469.8 1507.3 L1471.6 1507.7 L1473.3 1508.1 L1475.0 1508.4 L1476.8 1508.8 L1478.5 1509.2 L1480.3 1509.5 L1482.0 1509.8 L1483.7 1510.2 L1485.5 1510.5 L1487.2 1510.8 L1489.0 1511.0 L1490.7 1511.3 L1492.4 1511.5 L1494.2 1511.8 L1495.9 1512.0 L1497.7 1512.2 L1499.4 1512.4 L1501.1 1512.6 L1502.9 1512.8 L1504.6 1512.9 L1506.4 1513.1 L1508.1 1513.2 L1509.8 1513.4 L1511.6 1513.5 L1513.3 1513.6 L1515.1 1513.8 L1516.8 1513.9 L1518.5 1514.0 L1520.3 1514.1 L1522.0 1514.2 L1523.8 1514.3 L1525.5 1514.4 L1527.3 1514.5 L1529.0 1514.5 L1530.7 1514.6 L1532.5 1514.7 L1534.2 1514.7 L1536.0 1514.8 L1537.7 1514.8 L1539.4 1514.9 L1541.2 1514.9 L1542.9 1515.0 L1544.7 1515.0 L1546.4 1515.0 L1548.1 1515.1 L1549.9 1515.1 L1551.6 1515.1 L1553.4 1515.1 L1555.1 1515.1 L1556.8 1515.2 L1558.6 1515.2 L1560.3 1515.2 L1562.1 1515.2 L1563.8 1515.2 L1565.5 1515.2 L1567.3 1515.2 L1569.0 1515.2 L1570.8 1515.2 L1572.5 1515.3 L1574.2 1515.3 L1576.0 1515.3 L1577.7 1515.3 L1579.5 1515.3 L1581.2 1515.3 L1583.0 1515.3 L1584.7 1515.3 L1586.4 1515.3 L1588.2 1515.3 L1589.9 1515.3 L1591.7 1515.3 L1593.4 1515.3 L1595.1 1515.3 L1596.9 1515.3 L1598.6 1515.3 L1600.4 1515.3 L1602.1 1515.3 L1603.8 1515.3 L1605.6 1515.3 L1607.3 1515.3 L1609.1 1515.3 L1610.8 1515.3 L1612.5 1515.3 L1614.3 1515.3 L1616.0 1515.3 L1617.8 1515.3 L1619.5 1515.3 L1621.2 1515.2 L1623.0 1515.2 L1624.7 1515.2 L1626.5 1515.2 L1628.2 1515.2 L1629.9 1515.2 L1631.7 1515.2 L1633.4 1515.2 L1635.2 1515.2 L1636.9 1515.2 L1638.7 1515.2 L1640.4 1515.2 L1642.1 1515.2 L1643.9 1515.2 L1645.6 1515.2 L1647.4 1515.1 L1649.1 1515.1 L1650.8 1515.1 L1652.6 1515.1 L1654.3 1515.1 L1656.1 1515.1 L1657.8 1515.1 L1659.5 1515.1 L1661.3 1515.1 L1663.0 1515.1 L1664.8 1515.1 L1666.5 1515.1 L1668.2 1515.1 L1670.0 1515.0 L1671.7 1515.0 L1673.5 1515.0 L1675.2 1515.0 L1676.9 1515.0 L1678.7 1515.0 L1680.4 1515.0 L1682.2 1515.0 L1683.9 1515.0 L1685.6 1515.0 L1687.4 1515.0 L1689.1 1514.9 L1690.9 1514.9 L1692.6 1514.9 L1694.4 1514.9 L1696.1 1514.9 L1697.8 1514.9 L1699.6 1514.9 L1701.3 1514.9 L1703.1 1514.9 L1704.8 1514.8 L1706.5 1514.8 L1708.3 1514.8 L1710.0 1514.8 L1711.8 1514.8 L1713.5 1514.8 L1715.2 1514.8 L1717.0 1514.8 L1718.7 1514.8 L1720.5 1514.7 L1722.2 1514.7 L1723.9 1514.7 L1725.7 1514.7 L1727.4 1514.7 L1729.2 1514.7 L1730.9 1514.7 L1732.6 1514.7 L1734.4 1514.7 L1736.1 1514.6 L1737.9 1514.6 L1739.6 1514.6 L1741.3 1514.6 L1743.1 1514.6 L1744.8 1514.6 L1746.6 1514.6 L1748.3 1514.6 L1750.1 1514.6 L1751.8 1514.5 L1753.5 1514.5 L1755.3 1514.5 L1757.0 1514.5 L1758.8 1514.5 L1760.5 1514.5 L1762.2 1514.5 L1764.0 1514.5 L1765.7 1514.5 L1767.5 1514.5 L1769.2 1514.4 L1770.9 1514.4 L1772.7 1514.4 L1774.4 1514.4 L1776.2 1514.4 L1777.9 1514.4 L1779.6 1514.4 L1781.4 1514.4 L1783.1 1514.4 L1784.9 1514.3 L1786.6 1514.3 L1788.3 1514.3 L1790.1 1514.3 L1791.8 1514.3 L1793.6 1514.3 L1795.3 1514.3 L1797.0 1514.3 L1798.8 1514.3 L1800.5 1514.3 L1802.3 1514.2 L1804.0 1514.2 L1805.8 1514.2 L1807.5 1514.2 L1809.2 1514.2 L1811.0 1514.2 L1812.7 1514.2 L1814.5 1514.2 L1816.2 1514.2 L1817.9 1514.2 L1819.7 1514.2 L1821.4 1514.2 L1823.2 1514.2 L1824.9 1514.1 L1826.6 1514.1 L1828.4 1514.1 L1830.1 1514.1 L1831.9 1514.1 L1833.6 1514.1 L1835.3 1514.1 L1837.1 1514.1 L1838.8 1514.1 L1840.6 1514.1 L1842.3 1514.1 L1844.0 1514.1 L1845.8 1514.1 L1847.5 1514.1 L1849.3 1514.1 L1851.0 1514.1 L1852.7 1514.1 L1854.5 1514.1 L1856.2 1514.1 L1858.0 1514.1 L1859.7 1514.1 L1861.5 1514.1 L1863.2 1514.1 L1864.9 1514.1 L1866.7 1514.1 L1868.4 1514.1 L1870.2 1514.1 L1871.9 1514.1 L1873.6 1514.1 L1875.4 1514.1 L1877.1 1514.1 L1878.9 1514.1 L1880.6 1514.1 L1882.3 1514.1 L1884.1 1514.1 L1885.8 1514.1 L1887.6 1514.1 L1889.3 1514.1 L1891.0 1514.1 L1892.8 1514.1 L1894.5 1514.1 L1896.3 1514.1 L1898.0 1514.1 L1899.7 1514.1 L1901.5 1514.1 L1903.2 1514.1 L1905.0 1514.1 L1906.7 1514.1 L1908.4 1514.1 L1910.2 1514.1 L1911.9 1514.1 L1913.7 1514.1 L1915.4 1514.1 L1917.1 1514.1 L1918.9 1514.1 L1920.6 1514.2 L1922.4 1514.2 L1924.1 1514.2 L1925.9 1514.2 L1927.6 1514.2 L1929.3 1514.2 L1931.1 1514.2 L1932.8 1514.2 L1934.6 1514.2 L1936.3 1514.2 L1938.0 1514.2 L1939.8 1514.2 L1941.5 1514.2 L1943.3 1514.2 L1945.0 1514.2 L1946.7 1514.2 L1948.5 1514.2 L1950.2 1514.2 L1952.0 1514.2 L1953.7 1514.2 L1955.4 1514.2 L1957.2 1514.3 L1958.9 1514.3 L1960.7 1514.3 L1962.4 1514.3 L1964.1 1514.3 L1965.9 1514.3 L1967.6 1514.3 L1969.4 1514.3 L1971.1 1514.3 L1972.8 1514.3 L1974.6 1514.3 L1976.3 1514.3 L1978.1 1514.4 L1979.8 1514.4 L1981.6 1514.4 L1983.3 1514.4 L1985.0 1514.4 L1986.8 1514.4 L1988.5 1514.4 L1990.3 1514.4 L1992.0 1514.4 L1993.7 1514.4 L1995.5 1514.4 L1997.2 1514.4 L1999.0 1514.5 L2000.7 1514.5 L2002.4 1514.5 L2004.2 1514.5 L2005.9 1514.5 L2007.7 1514.5 L2009.4 1514.5 L2011.1 1514.5 L2012.9 1514.5 L2014.6 1514.5 L2016.4 1514.5 L2018.1 1514.5 L2019.8 1514.5 L2021.6 1514.5 L2023.3 1514.5 L2025.1 1514.5 L2026.8 1514.5 L2028.5 1514.5 L2030.3 1514.5 L2032.0 1514.5 L2033.8 1514.5 L2035.5 1514.5 L2037.3 1514.5 L2039.0 1514.5 L2040.7 1514.5 L2042.5 1514.5 L2044.2 1514.5 L2046.0 1514.5 L2047.7 1514.5 L2049.4 1514.5 L2051.2 1514.5 L2052.9 1514.5 L2054.7 1514.5 L2056.4 1514.5 L2058.1 1514.5 L2059.9 1514.5 L2061.6 1514.5 L2063.4 1514.5 L2065.1 1514.5 L2066.8 1514.5 L2068.6 1514.5 L2070.3 1514.5 L2072.1 1514.5 L2073.8 1514.5 L2075.5 1514.5 L2077.3 1514.5 L2079.0 1514.5 L2080.8 1514.5 L2082.5 1514.5 L2084.2 1514.5 L2086.0 1514.5 L2087.7 1514.5 L2089.5 1514.5 L2091.2 1514.5 L2093.0 1514.5 L2094.7 1514.5 L2096.4 1514.5 L2098.2 1514.5 L2099.9 1514.5 L2101.7 1514.5 L2103.4 1514.5 L2105.1 1514.5 L2106.9 1514.5 L2108.6 1514.5 L2110.4 1514.5 L2112.1 1514.5 L2113.8 1514.5 L2115.6 1514.5 L2117.3 1514.5 L2119.1 1514.5 L2120.8 1514.5 L2122.5 1514.5 L2124.3 1514.5 L2126.0 1514.5 L2127.8 1514.5 L2129.5 1514.5 L2131.2 1514.5 L2133.0 1514.5 L2134.7 1514.5 L2136.5 1514.5 L2138.2 1514.5 L2139.9 1514.5 L2141.7 1514.5 L2143.4 1514.5 L2145.2 1514.5 L2146.9 1514.5 L2148.7 1514.5 L2150.4 1514.5 L2152.1 1514.5 L2153.9 1514.5 L2155.6 1514.5 L2157.4 1514.5 L2159.1 1514.5 L2160.8 1514.5 L2162.6 1514.5 L2164.3 1514.5 L2166.1 1514.5 L2167.8 1514.5 L2169.5 1514.5 L2171.3 1514.5 L2173.0 1514.5 L2174.8 1514.5 L2176.5 1514.5 L2178.2 1514.5 L2180.0 1514.5 L2181.7 1514.5 L2183.5 1514.5 L2185.2 1514.5 L2186.9 1514.5 L2188.7 1514.5 L2190.4 1514.5 L2192.2 1514.5 L2193.9 1514.5 L2195.6 1514.5 L2197.4 1514.5 L2199.1 1514.5 L2200.9 1514.5 L2202.6 1514.5 L2204.4 1514.5 L2206.1 1514.5 L2207.8 1514.5 L2209.6 1514.5 L2211.3 1514.5 L2213.1 1514.5 L2214.8 1514.5 L2216.5 1514.5 L2218.3 1514.5 L2220.0 1514.5 L2221.8 1514.5 L2223.5 1514.5 L2225.2 1514.5 L2227.0 1514.5 L2228.7 1514.5 L2230.5 1514.5 L2232.2 1514.5 L2233.9 1514.5 L2235.7 1514.5 L2237.4 1514.5 L2239.2 1514.5 L2240.9 1514.5 L2242.6 1514.5 L2244.4 1514.5 L2246.1 1514.5 L2247.9 1514.5 L2249.6 1514.5 L2251.3 1514.5 L2253.1 1514.5 L2254.8 1514.5 L2256.6 1514.5 L2258.3 1514.5 L2260.1 1514.5 L2261.8 1514.5 L2263.5 1514.5 L2265.3 1514.5 L2267.0 1514.5 L2268.8 1514.5 L2270.5 1514.5 L2272.2 1514.5 L2274.0 1514.5 L2275.7 1514.5 L2277.5 1514.5 L2279.2 1514.5 L2280.9 1514.5 L2282.7 1514.5 L2284.4 1514.5 L2286.2 1514.5 L2287.9 1514.5 L2289.6 1514.5 L2291.4 1514.5 L2293.1 1514.5 L2294.9 1514.5 L2296.6 1514.5 L2298.3 1514.5 L2300.1 1514.5 L2301.8 1514.5 L2303.6 1514.5 L2305.3 1514.5 L2307.0 1514.5 L2308.8 1514.5 L2310.5 1514.5 L2312.3 1514.5 L2314.0 1514.5 L2315.8 1514.5 L2317.5 1514.5 L2319.2 1514.5 L2321.0 1514.5 L2322.7 1514.5 L2324.5 1514.5 L2326.2 1514.5 L2327.9 1514.5 L2329.7 1514.5 L2331.4 1514.5 L2333.2 1514.5 L2334.9 1514.5 L2336.6 1514.5 L2338.4 1514.5 L2340.1 1514.5 L2341.9 1514.5 L2343.6 1514.5 L2345.3 1514.5 L2347.1 1514.5 L2348.8 1514.5 L2350.6 1514.5 L2352.3 1514.5 L2354.0 1514.5 L2355.8 1514.5 L2357.5 1514.5 L2359.3 1514.5 L2361.0 1514.5 L2362.7 1514.5 L2364.5 1514.5 L2366.2 1514.5 L2368.0 1514.5 L2369.7 1514.5 L2371.5 1514.5 L2373.2 1514.5 L2374.9 1514.5 L2376.7 1514.5 L2378.4 1514.5 L2380.2 1514.5 L2381.9 1514.5 L2383.6 1514.5 L2385.4 1514.5 L2387.1 1514.5 L2388.9 1514.5 L2390.6 1514.5 L2392.3 1514.5 L2394.1 1514.5 L2395.8 1514.5 L2397.6 1514.5 L2399.3 1514.5 L2401.0 1514.5 L2402.8 1514.5 L2404.5 1514.5 L2406.3 1514.5 L2408.0 1514.5 L2409.7 1514.5 L2411.5 1514.5 L2413.2 1514.5 L2415.0 1514.5 L2416.7 1514.5 L2418.4 1514.5 L2420.2 1514.5 L2421.9 1514.5 L2423.7 1514.5 L2425.4 1514.5 L2427.2 1514.5 L2428.9 1514.5 L2430.6 1514.5 L2432.4 1514.5 L2434.1 1514.5 L2435.9 1514.5 L2437.6 1514.5 L2439.3 1514.5 L2441.1 1514.5 L2442.8 1514.5 L2444.6 1514.5 L2446.3 1514.5 L2448.0 1514.5 L2449.8 1514.5 L2451.5 1514.5 L2453.3 1514.5 L2455.0 1514.5" fill="none" stroke="#0000FF" stroke-width="11" stroke-linejoin="round" stroke-linecap="butt"/>
<g fill="none" stroke="#92298F" stroke-width="3.2" stroke-linejoin="miter" stroke-miterlimit="10">
<path d="M176.7 1514.5 h31 M192.2 1499 v31 M181.2 1503.5 l21.9 21.9 M181.2 1525.5 l21.9 -21.9"/>
<path d="M263.7 1469.6 h31 M279.2 1454.1 v31 M268.3 1458.7 l21.9 21.9 M268.3 1480.6 l21.9 -21.9"/>
<path d="M350.8 1421.4 h31 M366.3 1405.9 v31 M355.3 1410.4 l21.9 21.9 M355.3 1432.3 l21.9 -21.9"/>
<path d="M437.8 1374.5 h31 M453.3 1359 v31 M442.3 1363.5 l21.9 21.9 M442.3 1385.4 l21.9 -21.9"/>
<path d="M524.8 1331.6 h31 M540.3 1316.1 v31 M529.4 1320.6 l21.9 21.9 M529.4 1342.6 l21.9 -21.9"/>
<path d="M611.9 1284.4 h31 M627.4 1268.9 v31 M616.4 1273.4 l21.9 21.9 M616.4 1295.3 l21.9 -21.9"/>
<path d="M698.9 1237.1 h31 M714.4 1221.6 v31 M703.4 1226.2 l21.9 21.9 M703.4 1248.1 l21.9 -21.9"/>
<path d="M785.9 1185.6 h31 M801.4 1170.1 v31 M790.5 1174.6 l21.9 21.9 M790.5 1196.5 l21.9 -21.9"/>
<path d="M872.9 1138 h31 M888.4 1122.5 v31 M877.5 1127 l21.9 21.9 M877.5 1148.9 l21.9 -21.9"/>
<path d="M960 1092.4 h31 M975.5 1076.9 v31 M964.5 1081.5 l21.9 21.9 M964.5 1103.4 l21.9 -21.9"/>
<path d="M1047 1058.9 h31 M1062.5 1043.4 v31 M1051.5 1048 l21.9 21.9 M1051.5 1069.9 l21.9 -21.9"/>
<path d="M1134 1036.2 h31 M1149.5 1020.7 v31 M1138.6 1025.2 l21.9 21.9 M1138.6 1047.1 l21.9 -21.9"/>
<path d="M1221.1 1110.5 h31 M1236.6 1095 v31 M1225.6 1099.6 l21.9 21.9 M1225.6 1121.5 l21.9 -21.9"/>
<path d="M1308.1 1195.6 h31 M1323.6 1180.1 v31 M1312.6 1184.6 l21.9 21.9 M1312.6 1206.6 l21.9 -21.9"/>
<path d="M1395.1 1269.3 h31 M1410.6 1253.8 v31 M1399.7 1258.3 l21.9 21.9 M1399.7 1280.3 l21.9 -21.9"/>
<path d="M1482.2 1355.4 h31 M1497.7 1339.9 v31 M1486.7 1344.4 l21.9 21.9 M1486.7 1366.3 l21.9 -21.9"/>
<path d="M1569.2 1434.8 h31 M1584.7 1419.3 v31 M1573.7 1423.8 l21.9 21.9 M1573.7 1445.7 l21.9 -21.9"/>
<path d="M1656.2 1486.4 h31 M1671.7 1470.9 v31 M1660.8 1475.4 l21.9 21.9 M1660.8 1497.3 l21.9 -21.9"/>
<path d="M1743.3 1514.5 h31 M1758.8 1499 v31 M1747.8 1503.5 l21.9 21.9 M1747.8 1525.5 l21.9 -21.9"/>
<path d="M1830.3 1514.5 h31 M1845.8 1499 v31 M1834.8 1503.5 l21.9 21.9 M1834.8 1525.5 l21.9 -21.9"/>
<path d="M1917.3 1514.5 h31 M1932.8 1499 v31 M1921.9 1503.5 l21.9 21.9 M1921.9 1525.5 l21.9 -21.9"/>
<path d="M2004.3 1514.5 h31 M2019.8 1499 v31 M2008.9 1503.5 l21.9 21.9 M2008.9 1525.5 l21.9 -21.9"/>
<path d="M2091.4 1514.5 h31 M2106.9 1499 v31 M2095.9 1503.5 l21.9 21.9 M2095.9 1525.5 l21.9 -21.9"/>
<path d="M2178.4 1514.5 h31 M2193.9 1499 v31 M2182.9 1503.5 l21.9 21.9 M2182.9 1525.5 l21.9 -21.9"/>
<path d="M2265.4 1514.5 h31 M2280.9 1499 v31 M2270 1503.5 l21.9 21.9 M2270 1525.5 l21.9 -21.9"/>
<path d="M2352.5 1514.5 h31 M2368 1499 v31 M2357 1503.5 l21.9 21.9 M2357 1525.5 l21.9 -21.9"/>
<path d="M2439.5 1514.5 h31 M2455 1499 v31 M2444 1503.5 l21.9 21.9 M2444 1525.5 l21.9 -21.9"/>
</g>
<path clip-path="url(#ax)" d="M192.2 1514.5 L193.9 1513.6 L195.7 1512.7 L197.4 1511.7 L199.2 1510.8 L200.9 1509.9 L202.6 1509.0 L204.4 1508.0 L206.1 1507.1 L207.9 1506.2 L209.6 1505.3 L211.3 1504.3 L213.1 1503.4 L214.8 1502.5 L216.6 1501.6 L218.3 1500.6 L220.0 1499.7 L221.8 1498.8 L223.5 1497.9 L225.3 1496.9 L227.0 1496.0 L228.8 1495.1 L230.5 1494.2 L232.2 1493.2 L234.0 1492.3 L235.7 1491.4 L237.5 1490.5 L239.2 1489.5 L240.9 1488.6 L242.7 1487.7 L244.4 1486.8 L246.2 1485.8 L247.9 1484.9 L249.6 1484.0 L251.4 1483.1 L253.1 1482.1 L254.9 1481.2 L256.6 1480.3 L258.3 1479.4 L260.1 1478.4 L261.8 1477.5 L263.6 1476.6 L265.3 1475.7 L267.0 1474.7 L268.8 1473.8 L270.5 1472.9 L272.3 1472.0 L274.0 1471.0 L275.7 1470.1 L277.5 1469.2 L279.2 1468.3 L281.0 1467.3 L282.7 1466.4 L284.5 1465.5 L286.2 1464.6 L287.9 1463.7 L289.7 1462.7 L291.4 1461.8 L293.2 1460.9 L294.9 1460.0 L296.6 1459.0 L298.4 1458.1 L300.1 1457.2 L301.9 1456.3 L303.6 1455.3 L305.3 1454.4 L307.1 1453.5 L308.8 1452.6 L310.6 1451.6 L312.3 1450.7 L314.0 1449.8 L315.8 1448.9 L317.5 1447.9 L319.3 1447.0 L321.0 1446.1 L322.7 1445.2 L324.5 1444.2 L326.2 1443.3 L328.0 1442.4 L329.7 1441.5 L331.4 1440.5 L333.2 1439.6 L334.9 1438.7 L336.7 1437.8 L338.4 1436.8 L340.2 1435.9 L341.9 1435.0 L343.6 1434.1 L345.4 1433.1 L347.1 1432.2 L348.9 1431.3 L350.6 1430.4 L352.3 1429.4 L354.1 1428.5 L355.8 1427.6 L357.6 1426.7 L359.3 1425.7 L361.0 1424.8 L362.8 1423.9 L364.5 1423.0 L366.3 1422.0 L368.0 1421.1 L369.7 1420.2 L371.5 1419.3 L373.2 1418.3 L375.0 1417.4 L376.7 1416.5 L378.4 1415.6 L380.2 1414.7 L381.9 1413.7 L383.7 1412.8 L385.4 1411.9 L387.1 1411.0 L388.9 1410.0 L390.6 1409.1 L392.4 1408.2 L394.1 1407.3 L395.9 1406.3 L397.6 1405.4 L399.3 1404.5 L401.1 1403.6 L402.8 1402.6 L404.6 1401.7 L406.3 1400.8 L408.0 1399.9 L409.8 1398.9 L411.5 1398.0 L413.3 1397.1 L415.0 1396.2 L416.7 1395.2 L418.5 1394.3 L420.2 1393.4 L422.0 1392.5 L423.7 1391.5 L425.4 1390.6 L427.2 1389.7 L428.9 1388.8 L430.7 1387.8 L432.4 1386.9 L434.1 1386.0 L435.9 1385.1 L437.6 1384.1 L439.4 1383.2 L441.1 1382.3 L442.8 1381.4 L444.6 1380.4 L446.3 1379.5 L448.1 1378.6 L449.8 1377.7 L451.6 1376.7 L453.3 1375.8 L455.0 1374.9 L456.8 1374.0 L458.5 1373.0 L460.3 1372.1 L462.0 1371.2 L463.7 1370.3 L465.5 1369.3 L467.2 1368.4 L469.0 1367.5 L470.7 1366.6 L472.4 1365.7 L474.2 1364.7 L475.9 1363.8 L477.7 1362.9 L479.4 1362.0 L481.1 1361.0 L482.9 1360.1 L484.6 1359.2 L486.4 1358.3 L488.1 1357.3 L489.8 1356.4 L491.6 1355.5 L493.3 1354.6 L495.1 1353.6 L496.8 1352.7 L498.5 1351.8 L500.3 1350.9 L502.0 1349.9 L503.8 1349.0 L505.5 1348.1 L507.3 1347.2 L509.0 1346.2 L510.7 1345.3 L512.5 1344.4 L514.2 1343.5 L516.0 1342.5 L517.7 1341.6 L519.4 1340.7 L521.2 1339.8 L522.9 1338.8 L524.7 1337.9 L526.4 1337.0 L528.1 1336.1 L529.9 1335.1 L531.6 1334.2 L533.4 1333.3 L535.1 1332.4 L536.8 1331.4 L538.6 1330.5 L540.3 1329.6 L542.1 1328.7 L543.8 1327.7 L545.5 1326.8 L547.3 1325.9 L549.0 1325.0 L550.8 1324.0 L552.5 1323.1 L554.2 1322.2 L556.0 1321.3 L557.7 1320.3 L559.5 1319.4 L561.2 1318.5 L563.0 1317.6 L564.7 1316.6 L566.4 1315.7 L568.2 1314.8 L569.9 1313.9 L571.7 1313.0 L573.4 1312.0 L575.1 1311.1 L576.9 1310.2 L578.6 1309.3 L580.4 1308.3 L582.1 1307.4 L583.8 1306.5 L585.6 1305.6 L587.3 1304.6 L589.1 1303.7 L590.8 1302.8 L592.5 1301.9 L594.3 1300.9 L596.0 1300.0 L597.8 1299.1 L599.5 1298.2 L601.2 1297.2 L603.0 1296.3 L604.7 1295.4 L606.5 1294.5 L608.2 1293.5 L609.9 1292.6 L611.7 1291.7 L613.4 1290.8 L615.2 1289.8 L616.9 1288.9 L618.7 1288.0 L620.4 1287.1 L622.1 1286.1 L623.9 1285.2 L625.6 1284.3 L627.4 1283.4 L629.1 1282.5 L630.8 1281.5 L632.6 1280.6 L634.3 1279.7 L636.1 1278.8 L637.8 1277.9 L639.5 1276.9 L641.3 1276.0 L643.0 1275.1 L644.8 1274.2 L646.5 1273.3 L648.2 1272.4 L650.0 1271.4 L651.7 1270.5 L653.5 1269.6 L655.2 1268.7 L656.9 1267.8 L658.7 1266.9 L660.4 1266.0 L662.2 1265.1 L663.9 1264.1 L665.6 1263.2 L667.4 1262.3 L669.1 1261.4 L670.9 1260.5 L672.6 1259.6 L674.4 1258.6 L676.1 1257.7 L677.8 1256.8 L679.6 1255.9 L681.3 1255.0 L683.1 1254.0 L684.8 1253.1 L686.5 1252.2 L688.3 1251.3 L690.0 1250.3 L691.8 1249.4 L693.5 1248.5 L695.2 1247.5 L697.0 1246.6 L698.7 1245.7 L700.5 1244.7 L702.2 1243.8 L703.9 1242.8 L705.7 1241.9 L707.4 1240.9 L709.2 1240.0 L710.9 1239.0 L712.6 1238.0 L714.4 1237.1 L716.1 1236.1 L717.9 1235.2 L719.6 1234.2 L721.3 1233.2 L723.1 1232.2 L724.8 1231.3 L726.6 1230.3 L728.3 1229.3 L730.1 1228.3 L731.8 1227.3 L733.5 1226.3 L735.3 1225.3 L737.0 1224.3 L738.8 1223.3 L740.5 1222.3 L742.2 1221.3 L744.0 1220.3 L745.7 1219.3 L747.5 1218.3 L749.2 1217.3 L750.9 1216.3 L752.7 1215.3 L754.4 1214.3 L756.2 1213.3 L757.9 1212.3 L759.6 1211.3 L761.4 1210.2 L763.1 1209.2 L764.9 1208.2 L766.6 1207.2 L768.3 1206.2 L770.1 1205.2 L771.8 1204.2 L773.6 1203.2 L775.3 1202.1 L777.0 1201.1 L778.8 1200.1 L780.5 1199.1 L782.3 1198.1 L784.0 1197.1 L785.7 1196.1 L787.5 1195.0 L789.2 1194.0 L791.0 1193.0 L792.7 1192.0 L794.5 1190.9 L796.2 1189.9 L797.9 1188.9 L799.7 1187.9 L801.4 1186.8 L803.2 1185.8 L804.9 1184.8 L806.6 1183.7 L808.4 1182.7 L810.1 1181.7 L811.9 1180.6 L813.6 1179.6 L815.3 1178.6 L817.1 1177.5 L818.8 1176.5 L820.6 1175.5 L822.3 1174.4 L824.0 1173.4 L825.8 1172.3 L827.5 1171.3 L829.3 1170.3 L831.0 1169.2 L832.7 1168.2 L834.5 1167.2 L836.2 1166.1 L838.0 1165.1 L839.7 1164.1 L841.4 1163.0 L843.2 1162.0 L844.9 1161.0 L846.7 1160.0 L848.4 1158.9 L850.2 1157.9 L851.9 1156.9 L853.6 1155.9 L855.4 1154.9 L857.1 1153.8 L858.9 1152.8 L860.6 1151.8 L862.3 1150.8 L864.1 1149.8 L865.8 1148.8 L867.6 1147.8 L869.3 1146.8 L871.0 1145.8 L872.8 1144.8 L874.5 1143.8 L876.3 1142.8 L878.0 1141.9 L879.7 1140.9 L881.5 1139.9 L883.2 1138.9 L885.0 1138.0 L886.7 1137.0 L888.4 1136.0 L890.2 1135.1 L891.9 1134.1 L893.7 1133.2 L895.4 1132.2 L897.1 1131.3 L898.9 1130.3 L900.6 1129.4 L902.4 1128.4 L904.1 1127.5 L905.9 1126.6 L907.6 1125.6 L909.3 1124.7 L911.1 1123.8 L912.8 1122.8 L914.6 1121.9 L916.3 1121.0 L918.0 1120.1 L919.8 1119.1 L921.5 1118.2 L923.3 1117.3 L925.0 1116.4 L926.7 1115.5 L928.5 1114.6 L930.2 1113.7 L932.0 1112.8 L933.7 1111.9 L935.4 1111.0 L937.2 1110.1 L938.9 1109.2 L940.7 1108.3 L942.4 1107.4 L944.1 1106.5 L945.9 1105.6 L947.6 1104.7 L949.4 1103.8 L951.1 1103.0 L952.8 1102.1 L954.6 1101.2 L956.3 1100.3 L958.1 1099.4 L959.8 1098.5 L961.6 1097.7 L963.3 1096.8 L965.0 1095.9 L966.8 1095.0 L968.5 1094.2 L970.3 1093.3 L972.0 1092.4 L973.7 1091.5 L975.5 1090.6 L977.2 1089.8 L979.0 1088.9 L980.7 1088.0 L982.4 1087.2 L984.2 1086.3 L985.9 1085.4 L987.7 1084.6 L989.4 1083.7 L991.1 1082.9 L992.9 1082.0 L994.6 1081.2 L996.4 1080.4 L998.1 1079.6 L999.8 1078.7 L1001.6 1077.9 L1003.3 1077.1 L1005.1 1076.3 L1006.8 1075.5 L1008.5 1074.7 L1010.3 1074.0 L1012.0 1073.2 L1013.8 1072.4 L1015.5 1071.7 L1017.3 1070.9 L1019.0 1070.2 L1020.7 1069.4 L1022.5 1068.7 L1024.2 1068.0 L1026.0 1067.3 L1027.7 1066.5 L1029.4 1065.8 L1031.2 1065.1 L1032.9 1064.4 L1034.7 1063.8 L1036.4 1063.1 L1038.1 1062.4 L1039.9 1061.7 L1041.6 1061.1 L1043.4 1060.4 L1045.1 1059.8 L1046.8 1059.2 L1048.6 1058.5 L1050.3 1057.9 L1052.1 1057.3 L1053.8 1056.8 L1055.5 1056.2 L1057.3 1055.6 L1059.0 1055.1 L1060.8 1054.5 L1062.5 1054.0 L1064.2 1053.4 L1066.0 1052.9 L1067.7 1052.4 L1069.5 1051.9 L1071.2 1051.4 L1073.0 1051.0 L1074.7 1050.5 L1076.4 1050.1 L1078.2 1049.6 L1079.9 1049.2 L1081.7 1048.9 L1083.4 1048.5 L1085.1 1048.1 L1086.9 1047.8 L1088.6 1047.5 L1090.4 1047.2 L1092.1 1047.0 L1093.8 1046.8 L1095.6 1046.5 L1097.3 1046.3 L1099.1 1046.2 L1100.8 1046.0 L1102.5 1045.8 L1104.3 1045.7 L1106.0 1045.6 L1107.8 1045.5 L1109.5 1045.4 L1111.2 1045.3 L1113.0 1045.3 L1114.7 1045.3 L1116.5 1045.3 L1118.2 1045.3 L1119.9 1045.3 L1121.7 1045.4 L1123.4 1045.4 L1125.2 1045.5 L1126.9 1045.6 L1128.7 1045.8 L1130.4 1045.9 L1132.1 1046.1 L1133.9 1046.3 L1135.6 1046.5 L1137.4 1046.8 L1139.1 1047.1 L1140.8 1047.3 L1142.6 1047.7 L1144.3 1048.0 L1146.1 1048.4 L1147.8 1048.7 L1149.5 1049.1 L1151.3 1049.6 L1153.0 1050.0 L1154.8 1050.5 L1156.5 1051.1 L1158.2 1051.6 L1160.0 1052.2 L1161.7 1052.9 L1163.5 1053.5 L1165.2 1054.2 L1166.9 1054.9 L1168.7 1055.7 L1170.4 1056.5 L1172.2 1057.3 L1173.9 1058.2 L1175.6 1059.1 L1177.4 1060.0 L1179.1 1061.0 L1180.9 1062.0 L1182.6 1063.0 L1184.4 1064.0 L1186.1 1065.1 L1187.8 1066.2 L1189.6 1067.4 L1191.3 1068.5 L1193.1 1069.7 L1194.8 1070.9 L1196.5 1072.2 L1198.3 1073.4 L1200.0 1074.7 L1201.8 1076.0 L1203.5 1077.3 L1205.2 1078.7 L1207.0 1080.0 L1208.7 1081.4 L1210.5 1082.8 L1212.2 1084.2 L1213.9 1085.7 L1215.7 1087.1 L1217.4 1088.6 L1219.2 1090.0 L1220.9 1091.5 L1222.6 1093.0 L1224.4 1094.6 L1226.1 1096.1 L1227.9 1097.6 L1229.6 1099.2 L1231.3 1100.7 L1233.1 1102.3 L1234.8 1103.9 L1236.6 1105.5 L1238.3 1107.1 L1240.1 1108.7 L1241.8 1110.3 L1243.5 1112.0 L1245.3 1113.6 L1247.0 1115.3 L1248.8 1116.9 L1250.5 1118.6 L1252.2 1120.3 L1254.0 1121.9 L1255.7 1123.6 L1257.5 1125.3 L1259.2 1127.0 L1260.9 1128.7 L1262.7 1130.4 L1264.4 1132.2 L1266.2 1133.9 L1267.9 1135.6 L1269.6 1137.3 L1271.4 1139.0 L1273.1 1140.8 L1274.9 1142.5 L1276.6 1144.2 L1278.3 1145.9 L1280.1 1147.7 L1281.8 1149.4 L1283.6 1151.1 L1285.3 1152.9 L1287.0 1154.6 L1288.8 1156.3 L1290.5 1158.1 L1292.3 1159.8 L1294.0 1161.6 L1295.8 1163.3 L1297.5 1165.0 L1299.2 1166.8 L1301.0 1168.5 L1302.7 1170.3 L1304.5 1172.0 L1306.2 1173.7 L1307.9 1175.5 L1309.7 1177.2 L1311.4 1178.9 L1313.2 1180.7 L1314.9 1182.4 L1316.6 1184.1 L1318.4 1185.8 L1320.1 1187.5 L1321.9 1189.2 L1323.6 1190.9 L1325.3 1192.6 L1327.1 1194.3 L1328.8 1195.9 L1330.6 1197.6 L1332.3 1199.3 L1334.0 1200.9 L1335.8 1202.6 L1337.5 1204.2 L1339.3 1205.9 L1341.0 1207.5 L1342.7 1209.1 L1344.5 1210.8 L1346.2 1212.4 L1348.0 1214.0 L1349.7 1215.6 L1351.4 1217.2 L1353.2 1218.8 L1354.9 1220.3 L1356.7 1221.9 L1358.4 1223.5 L1360.2 1225.0 L1361.9 1226.6 L1363.6 1228.1 L1365.4 1229.7 L1367.1 1231.3 L1368.9 1232.8 L1370.6 1234.4 L1372.3 1235.9 L1374.1 1237.5 L1375.8 1239.1 L1377.6 1240.8 L1379.3 1242.4 L1381.0 1244.1 L1382.8 1245.7 L1384.5 1247.5 L1386.3 1249.2 L1388.0 1250.9 L1389.7 1252.7 L1391.5 1254.5 L1393.2 1256.3 L1395.0 1258.1 L1396.7 1259.9 L1398.4 1261.7 L1400.2 1263.6 L1401.9 1265.4 L1403.7 1267.2 L1405.4 1269.0 L1407.1 1270.8 L1408.9 1272.6 L1410.6 1274.4 L1412.4 1276.2 L1414.1 1278.0 L1415.9 1279.8 L1417.6 1281.6 L1419.3 1283.3 L1421.1 1285.1 L1422.8 1286.8 L1424.6 1288.6 L1426.3 1290.3 L1428.0 1292.0 L1429.8 1293.7 L1431.5 1295.5 L1433.3 1297.2 L1435.0 1298.9 L1436.7 1300.6 L1438.5 1302.3 L1440.2 1304.0 L1442.0 1305.7 L1443.7 1307.4 L1445.4 1309.1 L1447.2 1310.8 L1448.9 1312.5 L1450.7 1314.2 L1452.4 1315.9 L1454.1 1317.5 L1455.9 1319.2 L1457.6 1320.9 L1459.4 1322.5 L1461.1 1324.2 L1462.8 1325.9 L1464.6 1327.5 L1466.3 1329.2 L1468.1 1330.8 L1469.8 1332.5 L1471.6 1334.1 L1473.3 1335.8 L1475.0 1337.4 L1476.8 1339.0 L1478.5 1340.6 L1480.3 1342.3 L1482.0 1343.9 L1483.7 1345.5 L1485.5 1347.1 L1487.2 1348.7 L1489.0 1350.3 L1490.7 1351.9 L1492.4 1353.5 L1494.2 1355.1 L1495.9 1356.7 L1497.7 1358.3 L1499.4 1359.9 L1501.1 1361.5 L1502.9 1363.0 L1504.6 1364.6 L1506.4 1366.2 L1508.1 1367.7 L1509.8 1369.3 L1511.6 1370.8 L1513.3 1372.3 L1515.1 1373.9 L1516.8 1375.4 L1518.5 1376.9 L1520.3 1378.5 L1522.0 1380.0 L1523.8 1381.5 L1525.5 1383.0 L1527.3 1384.5 L1529.0 1386.0 L1530.7 1387.5 L1532.5 1389.0 L1534.2 1390.6 L1536.0 1392.1 L1537.7 1393.6 L1539.4 1395.1 L1541.2 1396.6 L1542.9 1398.1 L1544.7 1399.6 L1546.4 1401.1 L1548.1 1402.6 L1549.9 1404.1 L1551.6 1405.6 L1553.4 1407.1 L1555.1 1408.6 L1556.8 1410.1 L1558.6 1411.6 L1560.3 1413.1 L1562.1 1414.6 L1563.8 1416.1 L1565.5 1417.6 L1567.3 1419.1 L1569.0 1420.5 L1570.8 1422.0 L1572.5 1423.5 L1574.2 1425.0 L1576.0 1426.5 L1577.7 1427.9 L1579.5 1429.4 L1581.2 1430.9 L1583.0 1432.3 L1584.7 1433.8 L1586.4 1435.3 L1588.2 1436.8 L1589.9 1438.2 L1591.7 1439.7 L1593.4 1441.2 L1595.1 1442.6 L1596.9 1444.1 L1598.6 1445.5 L1600.4 1446.9 L1602.1 1448.3 L1603.8 1449.7 L1605.6 1451.1 L1607.3 1452.4 L1609.1 1453.7 L1610.8 1455.0 L1612.5 1456.2 L1614.3 1457.5 L1616.0 1458.7 L1617.8 1459.8 L1619.5 1460.9 L1621.2 1462.0 L1623.0 1463.1 L1624.7 1464.2 L1626.5 1465.2 L1628.2 1466.2 L1629.9 1467.1 L1631.7 1468.1 L1633.4 1469.0 L1635.2 1469.9 L1636.9 1470.8 L1638.7 1471.7 L1640.4 1472.5 L1642.1 1473.4 L1643.9 1474.2 L1645.6 1475.0 L1647.4 1475.9 L1649.1 1476.7 L1650.8 1477.5 L1652.6 1478.3 L1654.3 1479.0 L1656.1 1479.8 L1657.8 1480.6 L1659.5 1481.4 L1661.3 1482.1 L1663.0 1482.9 L1664.8 1483.7 L1666.5 1484.4 L1668.2 1485.2 L1670.0 1485.9 L1671.7 1486.7 L1673.5 1487.4 L1675.2 1488.2 L1676.9 1488.9 L1678.7 1489.7 L1680.4 1490.4 L1682.2 1491.2 L1683.9 1491.9 L1685.6 1492.6 L1687.4 1493.3 L1689.1 1494.0 L1690.9 1494.7 L1692.6 1495.4 L1694.4 1496.1 L1696.1 1496.8 L1697.8 1497.4 L1699.6 1498.1 L1701.3 1498.7 L1703.1 1499.3 L1704.8 1499.9 L1706.5 1500.5 L1708.3 1501.1 L1710.0 1501.6 L1711.8 1502.2 L1713.5 1502.7 L1715.2 1503.3 L1717.0 1503.8 L1718.7 1504.3 L1720.5 1504.8 L1722.2 1505.2 L1723.9 1505.7 L1725.7 1506.2 L1727.4 1506.6 L1729.2 1507.1 L1730.9 1507.5 L1732.6 1508.0 L1734.4 1508.4 L1736.1 1508.8 L1737.9 1509.2 L1739.6 1509.6 L1741.3 1510.0 L1743.1 1510.4 L1744.8 1510.7 L1746.6 1511.1 L1748.3 1511.4 L1750.1 1511.8 L1751.8 1512.1 L1753.5 1512.4 L1755.3 1512.7 L1757.0 1512.9 L1758.8 1513.2 L1760.5 1513.4 L1762.2 1513.6 L1764.0 1513.8 L1765.7 1514.0 L1767.5 1514.2 L1769.2 1514.4 L1770.9 1514.5 L1772.7 1514.7 L1774.4 1514.8 L1776.2 1514.9 L1777.9 1515.1 L1779.6 1515.2 L1781.4 1515.3 L1783.1 1515.4 L1784.9 1515.4 L1786.6 1515.5 L1788.3 1515.6 L1790.1 1515.6 L1791.8 1515.7 L1793.6 1515.7 L1795.3 1515.7 L1797.0 1515.8 L1798.8 1515.8 L1800.5 1515.8 L1802.3 1515.8 L1804.0 1515.8 L1805.8 1515.8 L1807.5 1515.8 L1809.2 1515.8 L1811.0 1515.8 L1812.7 1515.8 L1814.5 1515.8 L1816.2 1515.8 L1817.9 1515.8 L1819.7 1515.8 L1821.4 1515.8 L1823.2 1515.8 L1824.9 1515.8 L1826.6 1515.8 L1828.4 1515.8 L1830.1 1515.8 L1831.9 1515.8 L1833.6 1515.8 L1835.3 1515.8 L1837.1 1515.8 L1838.8 1515.8 L1840.6 1515.8 L1842.3 1515.8 L1844.0 1515.8 L1845.8 1515.8 L1847.5 1515.8 L1849.3 1515.8 L1851.0 1515.8 L1852.7 1515.8 L1854.5 1515.8 L1856.2 1515.8 L1858.0 1515.7 L1859.7 1515.7 L1861.5 1515.7 L1863.2 1515.7 L1864.9 1515.7 L1866.7 1515.7 L1868.4 1515.6 L1870.2 1515.6 L1871.9 1515.6 L1873.6 1515.6 L1875.4 1515.5 L1877.1 1515.5 L1878.9 1515.5 L1880.6 1515.5 L1882.3 1515.4 L1884.1 1515.4 L1885.8 1515.4 L1887.6 1515.3 L1889.3 1515.3 L1891.0 1515.3 L1892.8 1515.3 L1894.5 1515.3 L1896.3 1515.2 L1898.0 1515.2 L1899.7 1515.2 L1901.5 1515.2 L1903.2 1515.1 L1905.0 1515.1 L1906.7 1515.1 L1908.4 1515.1 L1910.2 1515.1 L1911.9 1515.0 L1913.7 1515.0 L1915.4 1515.0 L1917.1 1515.0 L1918.9 1515.0 L1920.6 1514.9 L1922.4 1514.9 L1924.1 1514.9 L1925.9 1514.9 L1927.6 1514.9 L1929.3 1514.8 L1931.1 1514.8 L1932.8 1514.8 L1934.6 1514.8 L1936.3 1514.8 L1938.0 1514.7 L1939.8 1514.7 L1941.5 1514.7 L1943.3 1514.7 L1945.0 1514.7 L1946.7 1514.7 L1948.5 1514.6 L1950.2 1514.6 L1952.0 1514.6 L1953.7 1514.6 L1955.4 1514.6 L1957.2 1514.6 L1958.9 1514.6 L1960.7 1514.6 L1962.4 1514.6 L1964.1 1514.5 L1965.9 1514.5 L1967.6 1514.5 L1969.4 1514.5 L1971.1 1514.5 L1972.8 1514.5 L1974.6 1514.5 L1976.3 1514.5 L1978.1 1514.5 L1979.8 1514.5 L1981.6 1514.5 L1983.3 1514.5 L1985.0 1514.5 L1986.8 1514.5 L1988.5 1514.5 L1990.3 1514.5 L1992.0 1514.5 L1993.7 1514.5 L1995.5 1514.5 L1997.2 1514.5 L1999.0 1514.5 L2000.7 1514.5 L2002.4 1514.5 L2004.2 1514.5 L2005.9 1514.5 L2007.7 1514.5 L2009.4 1514.5 L2011.1 1514.5 L2012.9 1514.5 L2014.6 1514.5 L2016.4 1514.5 L2018.1 1514.5 L2019.8 1514.5 L2021.6 1514.5 L2023.3 1514.5 L2025.1 1514.5 L2026.8 1514.5 L2028.5 1514.5 L2030.3 1514.5 L2032.0 1514.5 L2033.8 1514.5 L2035.5 1514.5 L2037.3 1514.5 L2039.0 1514.5 L2040.7 1514.5 L2042.5 1514.5 L2044.2 1514.5 L2046.0 1514.5 L2047.7 1514.5 L2049.4 1514.5 L2051.2 1514.5 L2052.9 1514.5 L2054.7 1514.5 L2056.4 1514.5 L2058.1 1514.5 L2059.9 1514.5 L2061.6 1514.5 L2063.4 1514.5 L2065.1 1514.5 L2066.8 1514.5 L2068.6 1514.5 L2070.3 1514.5 L2072.1 1514.5 L2073.8 1514.5 L2075.5 1514.5 L2077.3 1514.5 L2079.0 1514.5 L2080.8 1514.5 L2082.5 1514.5 L2084.2 1514.5 L2086.0 1514.5 L2087.7 1514.5 L2089.5 1514.5 L2091.2 1514.5 L2093.0 1514.5 L2094.7 1514.5 L2096.4 1514.5 L2098.2 1514.5 L2099.9 1514.5 L2101.7 1514.5 L2103.4 1514.5 L2105.1 1514.5 L2106.9 1514.5 L2108.6 1514.5 L2110.4 1514.5 L2112.1 1514.5 L2113.8 1514.5 L2115.6 1514.5 L2117.3 1514.5 L2119.1 1514.5 L2120.8 1514.5 L2122.5 1514.5 L2124.3 1514.5 L2126.0 1514.5 L2127.8 1514.5 L2129.5 1514.5 L2131.2 1514.5 L2133.0 1514.5 L2134.7 1514.5 L2136.5 1514.5 L2138.2 1514.5 L2139.9 1514.5 L2141.7 1514.5 L2143.4 1514.5 L2145.2 1514.5 L2146.9 1514.5 L2148.7 1514.5 L2150.4 1514.5 L2152.1 1514.5 L2153.9 1514.5 L2155.6 1514.5 L2157.4 1514.5 L2159.1 1514.5 L2160.8 1514.5 L2162.6 1514.5 L2164.3 1514.5 L2166.1 1514.5 L2167.8 1514.5 L2169.5 1514.5 L2171.3 1514.5 L2173.0 1514.5 L2174.8 1514.5 L2176.5 1514.5 L2178.2 1514.5 L2180.0 1514.5 L2181.7 1514.5 L2183.5 1514.5 L2185.2 1514.5 L2186.9 1514.5 L2188.7 1514.5 L2190.4 1514.5 L2192.2 1514.5 L2193.9 1514.5 L2195.6 1514.5 L2197.4 1514.5 L2199.1 1514.5 L2200.9 1514.5 L2202.6 1514.5 L2204.4 1514.5 L2206.1 1514.5 L2207.8 1514.5 L2209.6 1514.5 L2211.3 1514.5 L2213.1 1514.5 L2214.8 1514.5 L2216.5 1514.5 L2218.3 1514.5 L2220.0 1514.5 L2221.8 1514.5 L2223.5 1514.5 L2225.2 1514.5 L2227.0 1514.5 L2228.7 1514.5 L2230.5 1514.5 L2232.2 1514.5 L2233.9 1514.5 L2235.7 1514.5 L2237.4 1514.5 L2239.2 1514.5 L2240.9 1514.5 L2242.6 1514.5 L2244.4 1514.5 L2246.1 1514.5 L2247.9 1514.5 L2249.6 1514.5 L2251.3 1514.5 L2253.1 1514.5 L2254.8 1514.5 L2256.6 1514.5 L2258.3 1514.5 L2260.1 1514.5 L2261.8 1514.5 L2263.5 1514.5 L2265.3 1514.5 L2267.0 1514.5 L2268.8 1514.5 L2270.5 1514.5 L2272.2 1514.5 L2274.0 1514.5 L2275.7 1514.5 L2277.5 1514.5 L2279.2 1514.5 L2280.9 1514.5 L2282.7 1514.5 L2284.4 1514.5 L2286.2 1514.5 L2287.9 1514.5 L2289.6 1514.5 L2291.4 1514.5 L2293.1 1514.5 L2294.9 1514.5 L2296.6 1514.5 L2298.3 1514.5 L2300.1 1514.5 L2301.8 1514.5 L2303.6 1514.5 L2305.3 1514.5 L2307.0 1514.5 L2308.8 1514.5 L2310.5 1514.5 L2312.3 1514.5 L2314.0 1514.5 L2315.8 1514.5 L2317.5 1514.5 L2319.2 1514.5 L2321.0 1514.5 L2322.7 1514.5 L2324.5 1514.5 L2326.2 1514.5 L2327.9 1514.5 L2329.7 1514.5 L2331.4 1514.5 L2333.2 1514.5 L2334.9 1514.5 L2336.6 1514.5 L2338.4 1514.5 L2340.1 1514.5 L2341.9 1514.5 L2343.6 1514.5 L2345.3 1514.5 L2347.1 1514.5 L2348.8 1514.5 L2350.6 1514.5 L2352.3 1514.5 L2354.0 1514.5 L2355.8 1514.5 L2357.5 1514.5 L2359.3 1514.5 L2361.0 1514.5 L2362.7 1514.5 L2364.5 1514.5 L2366.2 1514.5 L2368.0 1514.5 L2369.7 1514.5 L2371.5 1514.5 L2373.2 1514.5 L2374.9 1514.5 L2376.7 1514.5 L2378.4 1514.5 L2380.2 1514.5 L2381.9 1514.5 L2383.6 1514.5 L2385.4 1514.5 L2387.1 1514.5 L2388.9 1514.5 L2390.6 1514.5 L2392.3 1514.5 L2394.1 1514.5 L2395.8 1514.5 L2397.6 1514.5 L2399.3 1514.5 L2401.0 1514.5 L2402.8 1514.5 L2404.5 1514.5 L2406.3 1514.5 L2408.0 1514.5 L2409.7 1514.5 L2411.5 1514.5 L2413.2 1514.5 L2415.0 1514.5 L2416.7 1514.5 L2418.4 1514.5 L2420.2 1514.5 L2421.9 1514.5 L2423.7 1514.5 L2425.4 1514.5 L2427.2 1514.5 L2428.9 1514.5 L2430.6 1514.5 L2432.4 1514.5 L2434.1 1514.5 L2435.9 1514.5 L2437.6 1514.5 L2439.3 1514.5 L2441.1 1514.5 L2442.8 1514.5 L2444.6 1514.5 L2446.3 1514.5 L2448.0 1514.5 L2449.8 1514.5 L2451.5 1514.5 L2453.3 1514.5 L2455.0 1514.5" fill="none" stroke="#00FFFF" stroke-width="11" stroke-linejoin="round" stroke-linecap="butt"/>
<g fill="#222222" shape-rendering="crispEdges"><rect x="254" y="133" width="957" height="513"/><rect x="257" y="136" width="951" height="506" fill="#fff"/></g>
<g fill="none" stroke="#0070C0" stroke-width="3.2" stroke-miterlimit="10"><circle cx="410.5" cy="171.4" r="15.05"/></g>
<text class="lg" y="188.8"><tspan x="479.2" textLength="133.7" lengthAdjust="spacingAndGlyphs">TTWG</tspan> <tspan x="625.6" textLength="131.5" lengthAdjust="spacingAndGlyphs">results</tspan> <tspan x="767.7" textLength="21.4" lengthAdjust="spacingAndGlyphs">1</tspan></text>
<path d="M356.2 234.1 H469" stroke="#FF0000" stroke-width="11" fill="none"/>
<text class="lg" y="250.5"><tspan x="479.5" textLength="130.4" lengthAdjust="spacingAndGlyphs">Fitting</tspan> <tspan x="621.9" textLength="109.9" lengthAdjust="spacingAndGlyphs">curve</tspan> <tspan x="745.0" textLength="41.1" lengthAdjust="spacingAndGlyphs">of</tspan> <tspan x="795.7" textLength="134.1" lengthAdjust="spacingAndGlyphs">TTWG</tspan> <tspan x="941.7" textLength="131.5" lengthAdjust="spacingAndGlyphs">results</tspan> <tspan x="1084.4" textLength="21.9" lengthAdjust="spacingAndGlyphs">1</tspan></text>
<g fill="none" stroke="#F6500B" stroke-width="3.2" stroke-miterlimit="10"><path d="M412.5 275.4 L430.2 306 L394.8 306 Z"/></g>
<text class="lg" y="312.3"><tspan x="479.2" textLength="133.7" lengthAdjust="spacingAndGlyphs">TTWG</tspan> <tspan x="625.6" textLength="131.5" lengthAdjust="spacingAndGlyphs">results</tspan> <tspan x="764.9" textLength="27.7" lengthAdjust="spacingAndGlyphs">2</tspan></text>
<path d="M356.2 357.6 H469" stroke="#00FF00" stroke-width="11" fill="none"/>
<text class="lg" y="374"><tspan x="479.5" textLength="130.4" lengthAdjust="spacingAndGlyphs">Fitting</tspan> <tspan x="621.9" textLength="109.9" lengthAdjust="spacingAndGlyphs">curve</tspan> <tspan x="745.0" textLength="41.1" lengthAdjust="spacingAndGlyphs">of</tspan> <tspan x="795.7" textLength="134.1" lengthAdjust="spacingAndGlyphs">TTWG</tspan> <tspan x="941.7" textLength="131.5" lengthAdjust="spacingAndGlyphs">results</tspan> <tspan x="1081.5" textLength="27.9" lengthAdjust="spacingAndGlyphs">2</tspan></text>
<g fill="none" stroke="#FFB000" stroke-width="3.2" stroke-miterlimit="10"><rect x="400.9" y="408.3" width="23.1" height="23.1"/></g>
<text class="lg" y="435.7"><tspan x="479.1" textLength="133.7" lengthAdjust="spacingAndGlyphs">TPWG</tspan> <tspan x="625.6" textLength="131.5" lengthAdjust="spacingAndGlyphs">results</tspan> <tspan x="767.7" textLength="21.4" lengthAdjust="spacingAndGlyphs">1</tspan></text>
<path d="M356.2 481 H469" stroke="#0000FF" stroke-width="11" fill="none"/>
<text class="lg" y="497.4"><tspan x="479.5" textLength="130.4" lengthAdjust="spacingAndGlyphs">Fitting</tspan> <tspan x="621.9" textLength="109.9" lengthAdjust="spacingAndGlyphs">curve</tspan> <tspan x="745.0" textLength="41.1" lengthAdjust="spacingAndGlyphs">of</tspan> <tspan x="795.6" textLength="134.1" lengthAdjust="spacingAndGlyphs">TPWG</tspan> <tspan x="941.7" textLength="131.5" lengthAdjust="spacingAndGlyphs">results</tspan> <tspan x="1084.4" textLength="21.9" lengthAdjust="spacingAndGlyphs">1</tspan></text>
<g fill="none" stroke="#92298F" stroke-width="3.2" stroke-miterlimit="10"><path d="M397 543.4 h31 M412.5 527.9 v31 M401.5 532.4 l21.9 21.9 M401.5 554.3 l21.9 -21.9"/></g>
<text class="lg" y="559.2"><tspan x="479.1" textLength="133.7" lengthAdjust="spacingAndGlyphs">TPWG</tspan> <tspan x="625.6" textLength="131.5" lengthAdjust="spacingAndGlyphs">results</tspan> <tspan x="764.9" textLength="27.7" lengthAdjust="spacingAndGlyphs">2</tspan></text>
<path d="M356.2 604.5 H469" stroke="#00FFFF" stroke-width="11" fill="none"/>
<text class="lg" y="620.9"><tspan x="479.5" textLength="130.4" lengthAdjust="spacingAndGlyphs">Fitting</tspan> <tspan x="621.9" textLength="109.9" lengthAdjust="spacingAndGlyphs">curve</tspan> <tspan x="745.0" textLength="41.1" lengthAdjust="spacingAndGlyphs">of</tspan> <tspan x="795.6" textLength="134.1" lengthAdjust="spacingAndGlyphs">TPWG</tspan> <tspan x="941.7" textLength="131.5" lengthAdjust="spacingAndGlyphs">results</tspan> <tspan x="1081.5" textLength="27.9" lengthAdjust="spacingAndGlyphs">2</tspan></text>
</svg></body></html>
